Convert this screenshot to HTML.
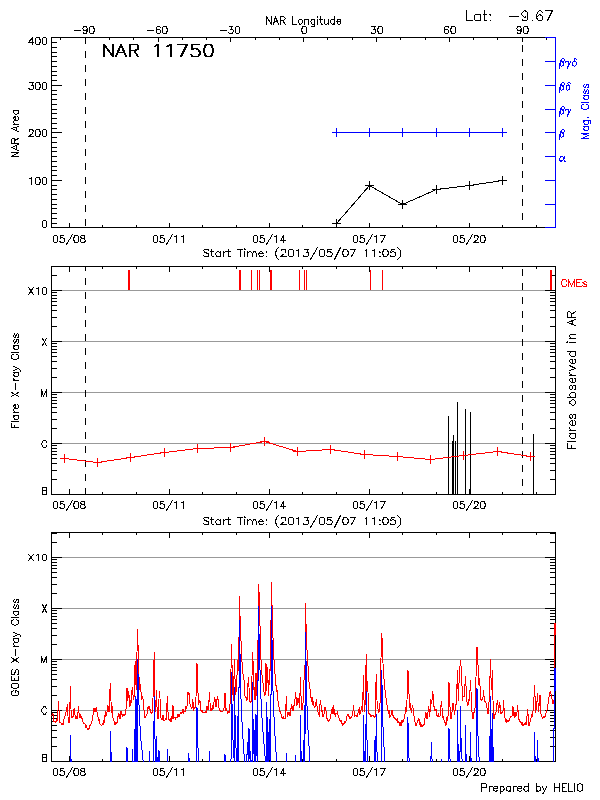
<!DOCTYPE html>
<html lang="en"><head><meta charset="utf-8"><title>NAR 11750 - HELIO active region summary</title>
<style>html,body{margin:0;padding:0;background:#fff;overflow:hidden}svg{display:block}text{font-family:"Liberation Sans",sans-serif;fill:#000;fill-opacity:0;stroke:none}</style>
</head><body>
<svg width="600" height="800" viewBox="0 0 600 800" shape-rendering="crispEdges">
<rect width="600" height="800" fill="#fff"/>
<path d="M51.5 227.5 L555.5 227.5 M51.5 37.5 L51.5 227.5 M69.5 223.5 L69.5 227.5 M102.5 225.5 L102.5 227.5 M136.5 225.5 L136.5 227.5 M169.5 223.5 L169.5 227.5 M202.5 225.5 L202.5 227.5 M236.5 225.5 L236.5 227.5 M269.5 223.5 L269.5 227.5 M302.5 225.5 L302.5 227.5 M336.5 225.5 L336.5 227.5 M369.5 223.5 L369.5 227.5 M402.5 225.5 L402.5 227.5 M436.5 225.5 L436.5 227.5 M469.5 223.5 L469.5 227.5 M502.5 225.5 L502.5 227.5 M536.5 225.5 L536.5 227.5 M51.5 37.5 L545.5 37.5 M51.5 223.5 L56.5 223.5 M51.5 218.5 L56.5 218.5 M51.5 213.5 L56.5 213.5 M51.5 208.5 L56.5 208.5 M51.5 204.5 L56.5 204.5 M51.5 199.5 L56.5 199.5 M51.5 194.5 L56.5 194.5 M51.5 189.5 L56.5 189.5 M51.5 185.5 L56.5 185.5 M51.5 180.5 L61.5 180.5 M51.5 175.5 L56.5 175.5 M51.5 170.5 L56.5 170.5 M51.5 166.5 L56.5 166.5 M51.5 161.5 L56.5 161.5 M51.5 156.5 L56.5 156.5 M51.5 151.5 L56.5 151.5 M51.5 147.5 L56.5 147.5 M51.5 142.5 L56.5 142.5 M51.5 137.5 L56.5 137.5 M51.5 132.5 L61.5 132.5 M51.5 128.5 L56.5 128.5 M51.5 123.5 L56.5 123.5 M51.5 118.5 L56.5 118.5 M51.5 113.5 L56.5 113.5 M51.5 109.5 L56.5 109.5 M51.5 104.5 L56.5 104.5 M51.5 99.5 L56.5 99.5 M51.5 94.5 L56.5 94.5 M51.5 90.5 L56.5 90.5 M51.5 85.5 L61.5 85.5 M51.5 80.5 L56.5 80.5 M51.5 75.5 L56.5 75.5 M51.5 71.5 L56.5 71.5 M51.5 66.5 L56.5 66.5 M51.5 61.5 L56.5 61.5 M51.5 56.5 L56.5 56.5 M51.5 52.5 L56.5 52.5 M51.5 47.5 L56.5 47.5 M51.5 42.5 L56.5 42.5 M60.5 37.5 L60.5 39.5 M85.5 37.5 L85.5 41.5 M109.5 37.5 L109.5 39.5 M133.5 37.5 L133.5 39.5 M158.5 37.5 L158.5 41.5 M182.5 37.5 L182.5 39.5 M206.5 37.5 L206.5 39.5 M230.5 37.5 L230.5 41.5 M255.5 37.5 L255.5 39.5 M279.5 37.5 L279.5 39.5 M303.5 37.5 L303.5 41.5 M327.5 37.5 L327.5 39.5 M352.5 37.5 L352.5 39.5 M376.5 37.5 L376.5 41.5 M400.5 37.5 L400.5 39.5 M425.5 37.5 L425.5 39.5 M449.5 37.5 L449.5 41.5 M473.5 37.5 L473.5 39.5 M497.5 37.5 L497.5 39.5 M522.5 37.5 L522.5 41.5 M546.5 37.5 L546.5 39.5" stroke="#000" stroke-width="1" fill="none" stroke-linecap="square" />
<path d="M555.5 37.5 L555.5 227.5 M545.5 37.5 L555.5 37.5 M545.5 227.5 L555.5 227.5 M545.5 204.5 L555.5 204.5 M545.5 180.5 L555.5 180.5 M545.5 156.5 L555.5 156.5 M545.5 132.5 L555.5 132.5 M545.5 109.5 L555.5 109.5 M545.5 85.5 L555.5 85.5 M545.5 61.5 L555.5 61.5" stroke="#0000ff" stroke-width="1" fill="none" stroke-linecap="square" />
<path d="M85.5 37.5 L85.5 43.5 M85.5 51.5 L85.5 57.5 M85.5 65.5 L85.5 71.5 M85.5 79.5 L85.5 85.5 M85.5 93.5 L85.5 99.5 M85.5 107.5 L85.5 113.5 M85.5 121.5 L85.5 127.5 M85.5 135.5 L85.5 141.5 M85.5 149.5 L85.5 155.5 M85.5 163.5 L85.5 169.5 M85.5 177.5 L85.5 183.5 M85.5 191.5 L85.5 197.5 M85.5 205.5 L85.5 211.5 M85.5 219.5 L85.5 225.5 M522.5 45.5 L522.5 51.5 M522.5 59.5 L522.5 65.5 M522.5 73.5 L522.5 79.5 M522.5 87.5 L522.5 93.5 M522.5 101.5 L522.5 107.5 M522.5 115.5 L522.5 121.5 M522.5 129.5 L522.5 135.5 M522.5 143.5 L522.5 149.5 M522.5 157.5 L522.5 163.5 M522.5 171.5 L522.5 177.5 M522.5 185.5 L522.5 191.5 M522.5 199.5 L522.5 205.5 M522.5 213.5 L522.5 219.5" stroke="#000" stroke-width="1" fill="none" stroke-linecap="square" />
<path d="M32.5 37.5 L28.5 42.5 L33.5 42.5 M32.5 37.5 L32.5 44.5 M37.5 37.5 L36.5 37.5 L35.5 38.5 L35.5 40.5 L35.5 41.5 L35.5 43.5 L36.5 44.5 L37.5 44.5 L38.5 44.5 L39.5 44.5 L39.5 43.5 L40.5 41.5 L40.5 40.5 L39.5 38.5 L39.5 37.5 L38.5 37.5 L37.5 37.5 M44.5 37.5 L43.5 37.5 L42.5 38.5 L42.5 40.5 L42.5 41.5 L42.5 43.5 L43.5 44.5 L44.5 44.5 L44.5 44.5 L45.5 44.5 L46.5 43.5 L46.5 41.5 L46.5 40.5 L46.5 38.5 L45.5 37.5 L44.5 37.5 L44.5 37.5" stroke="#000" stroke-width="1" fill="none" stroke-linecap="square" stroke-linejoin="miter"/>
<path d="M29.5 82.5 L33.5 82.5 L31.5 85.5 L32.5 85.5 L32.5 85.5 L33.5 85.5 L33.5 86.5 L33.5 87.5 L33.5 88.5 L32.5 89.5 L31.5 89.5 L30.5 89.5 L29.5 89.5 L29.5 88.5 L28.5 88.5 M37.5 82.5 L36.5 82.5 L35.5 83.5 L35.5 85.5 L35.5 86.5 L35.5 88.5 L36.5 89.5 L37.5 89.5 L38.5 89.5 L39.5 89.5 L39.5 88.5 L40.5 86.5 L40.5 85.5 L39.5 83.5 L39.5 82.5 L38.5 82.5 L37.5 82.5 M44.5 82.5 L43.5 82.5 L42.5 83.5 L42.5 85.5 L42.5 86.5 L42.5 88.5 L43.5 89.5 L44.5 89.5 L44.5 89.5 L45.5 89.5 L46.5 88.5 L46.5 86.5 L46.5 85.5 L46.5 83.5 L45.5 82.5 L44.5 82.5 L44.5 82.5" stroke="#000" stroke-width="1" fill="none" stroke-linecap="square" stroke-linejoin="miter"/>
<path d="M29.5 131.5 L29.5 130.5 L29.5 130.5 L29.5 129.5 L30.5 129.5 L31.5 129.5 L32.5 129.5 L32.5 130.5 L33.5 130.5 L33.5 131.5 L32.5 132.5 L32.5 133.5 L28.5 136.5 L33.5 136.5 M37.5 129.5 L36.5 129.5 L35.5 130.5 L35.5 132.5 L35.5 133.5 L35.5 135.5 L36.5 136.5 L37.5 136.5 L38.5 136.5 L39.5 136.5 L39.5 135.5 L40.5 133.5 L40.5 132.5 L39.5 130.5 L39.5 129.5 L38.5 129.5 L37.5 129.5 M44.5 129.5 L43.5 129.5 L42.5 130.5 L42.5 132.5 L42.5 133.5 L42.5 135.5 L43.5 136.5 L44.5 136.5 L44.5 136.5 L45.5 136.5 L46.5 135.5 L46.5 133.5 L46.5 132.5 L46.5 130.5 L45.5 129.5 L44.5 129.5 L44.5 129.5" stroke="#000" stroke-width="1" fill="none" stroke-linecap="square" stroke-linejoin="miter"/>
<path d="M29.5 178.5 L30.5 178.5 L31.5 177.5 L31.5 184.5 M37.5 177.5 L36.5 177.5 L35.5 178.5 L35.5 180.5 L35.5 181.5 L35.5 183.5 L36.5 184.5 L37.5 184.5 L38.5 184.5 L39.5 184.5 L39.5 183.5 L40.5 181.5 L40.5 180.5 L39.5 178.5 L39.5 177.5 L38.5 177.5 L37.5 177.5 M44.5 177.5 L43.5 177.5 L42.5 178.5 L42.5 180.5 L42.5 181.5 L42.5 183.5 L43.5 184.5 L44.5 184.5 L44.5 184.5 L45.5 184.5 L46.5 183.5 L46.5 181.5 L46.5 180.5 L46.5 178.5 L45.5 177.5 L44.5 177.5 L44.5 177.5" stroke="#000" stroke-width="1" fill="none" stroke-linecap="square" stroke-linejoin="miter"/>
<path d="M44.5 220.5 L43.5 220.5 L42.5 221.5 L42.5 223.5 L42.5 224.5 L42.5 226.5 L43.5 227.5 L44.5 227.5 L44.5 227.5 L45.5 227.5 L46.5 226.5 L46.5 224.5 L46.5 223.5 L46.5 221.5 L45.5 220.5 L44.5 220.5 L44.5 220.5" stroke="#000" stroke-width="1" fill="none" stroke-linecap="square" stroke-linejoin="miter"/>
<path d="M74.5 30.5 L80.5 30.5 M87.5 28.5 L86.5 29.5 L86.5 30.5 L85.5 30.5 L84.5 30.5 L83.5 30.5 L83.5 29.5 L82.5 28.5 L82.5 28.5 L83.5 27.5 L83.5 26.5 L84.5 26.5 L85.5 26.5 L86.5 26.5 L86.5 27.5 L87.5 28.5 L87.5 30.5 L86.5 32.5 L86.5 33.5 L85.5 33.5 L84.5 33.5 L83.5 33.5 L83.5 32.5 M91.5 26.5 L90.5 26.5 L89.5 27.5 L89.5 29.5 L89.5 30.5 L89.5 32.5 L90.5 33.5 L91.5 33.5 L92.5 33.5 L93.5 33.5 L93.5 32.5 L94.5 30.5 L94.5 29.5 L93.5 27.5 L93.5 26.5 L92.5 26.5 L91.5 26.5" stroke="#000" stroke-width="1" fill="none" stroke-linecap="square" stroke-linejoin="miter"/>
<path d="M147.5 30.5 L153.5 30.5 M160.5 27.5 L159.5 26.5 L158.5 26.5 L158.5 26.5 L157.5 26.5 L156.5 27.5 L156.5 29.5 L156.5 31.5 L156.5 32.5 L157.5 33.5 L158.5 33.5 L158.5 33.5 L159.5 33.5 L160.5 32.5 L160.5 31.5 L160.5 31.5 L160.5 30.5 L159.5 29.5 L158.5 29.5 L158.5 29.5 L157.5 29.5 L156.5 30.5 L156.5 31.5 M164.5 26.5 L163.5 26.5 L162.5 27.5 L162.5 29.5 L162.5 30.5 L162.5 32.5 L163.5 33.5 L164.5 33.5 L165.5 33.5 L166.5 33.5 L166.5 32.5 L167.5 30.5 L167.5 29.5 L166.5 27.5 L166.5 26.5 L165.5 26.5 L164.5 26.5" stroke="#000" stroke-width="1" fill="none" stroke-linecap="square" stroke-linejoin="miter"/>
<path d="M220.5 30.5 L226.5 30.5 M229.5 26.5 L232.5 26.5 L230.5 29.5 L231.5 29.5 L232.5 29.5 L232.5 29.5 L233.5 30.5 L233.5 31.5 L232.5 32.5 L232.5 33.5 L231.5 33.5 L230.5 33.5 L229.5 33.5 L228.5 32.5 L228.5 32.5 M237.5 26.5 L236.5 26.5 L235.5 27.5 L235.5 29.5 L235.5 30.5 L235.5 32.5 L236.5 33.5 L237.5 33.5 L237.5 33.5 L238.5 33.5 L239.5 32.5 L239.5 30.5 L239.5 29.5 L239.5 27.5 L238.5 26.5 L237.5 26.5 L237.5 26.5" stroke="#000" stroke-width="1" fill="none" stroke-linecap="square" stroke-linejoin="miter"/>
<path d="M303.5 26.5 L302.5 26.5 L302.5 27.5 L301.5 29.5 L301.5 30.5 L302.5 32.5 L302.5 33.5 L303.5 33.5 L304.5 33.5 L305.5 33.5 L306.5 32.5 L306.5 30.5 L306.5 29.5 L306.5 27.5 L305.5 26.5 L304.5 26.5 L303.5 26.5" stroke="#000" stroke-width="1" fill="none" stroke-linecap="square" stroke-linejoin="miter"/>
<path d="M371.5 26.5 L375.5 26.5 L373.5 29.5 L374.5 29.5 L375.5 29.5 L375.5 29.5 L375.5 30.5 L375.5 31.5 L375.5 32.5 L374.5 33.5 L373.5 33.5 L372.5 33.5 L371.5 33.5 L371.5 32.5 L371.5 32.5 M379.5 26.5 L378.5 26.5 L378.5 27.5 L377.5 29.5 L377.5 30.5 L378.5 32.5 L378.5 33.5 L379.5 33.5 L380.5 33.5 L381.5 33.5 L382.5 32.5 L382.5 30.5 L382.5 29.5 L382.5 27.5 L381.5 26.5 L380.5 26.5 L379.5 26.5" stroke="#000" stroke-width="1" fill="none" stroke-linecap="square" stroke-linejoin="miter"/>
<path d="M448.5 27.5 L448.5 26.5 L447.5 26.5 L446.5 26.5 L445.5 26.5 L444.5 27.5 L444.5 29.5 L444.5 31.5 L444.5 32.5 L445.5 33.5 L446.5 33.5 L446.5 33.5 L447.5 33.5 L448.5 32.5 L448.5 31.5 L448.5 31.5 L448.5 30.5 L447.5 29.5 L446.5 29.5 L446.5 29.5 L445.5 29.5 L444.5 30.5 L444.5 31.5 M452.5 26.5 L451.5 26.5 L451.5 27.5 L450.5 29.5 L450.5 30.5 L451.5 32.5 L451.5 33.5 L452.5 33.5 L453.5 33.5 L454.5 33.5 L455.5 32.5 L455.5 30.5 L455.5 29.5 L455.5 27.5 L454.5 26.5 L453.5 26.5 L452.5 26.5" stroke="#000" stroke-width="1" fill="none" stroke-linecap="square" stroke-linejoin="miter"/>
<path d="M521.5 28.5 L520.5 29.5 L520.5 30.5 L519.5 30.5 L518.5 30.5 L517.5 30.5 L517.5 29.5 L516.5 28.5 L516.5 28.5 L517.5 27.5 L517.5 26.5 L518.5 26.5 L519.5 26.5 L520.5 26.5 L520.5 27.5 L521.5 28.5 L521.5 30.5 L520.5 32.5 L520.5 33.5 L519.5 33.5 L518.5 33.5 L517.5 33.5 L517.5 32.5 M525.5 26.5 L524.5 26.5 L523.5 27.5 L523.5 29.5 L523.5 30.5 L523.5 32.5 L524.5 33.5 L525.5 33.5 L526.5 33.5 L527.5 33.5 L527.5 32.5 L528.5 30.5 L528.5 29.5 L527.5 27.5 L527.5 26.5 L526.5 26.5 L525.5 26.5" stroke="#000" stroke-width="1" fill="none" stroke-linecap="square" stroke-linejoin="miter"/>
<path d="M266.5 16.5 L266.5 24.5 M266.5 16.5 L271.5 24.5 M271.5 16.5 L271.5 24.5 M275.5 16.5 L273.5 24.5 M275.5 16.5 L278.5 24.5 M274.5 21.5 L277.5 21.5 M280.5 16.5 L280.5 24.5 M280.5 16.5 L283.5 16.5 L284.5 17.5 L284.5 17.5 L285.5 18.5 L285.5 18.5 L284.5 19.5 L284.5 19.5 L283.5 20.5 L280.5 20.5 M282.5 20.5 L285.5 24.5 M292.5 16.5 L292.5 24.5 M292.5 24.5 L296.5 24.5 M299.5 19.5 L299.5 19.5 L298.5 20.5 L298.5 21.5 L298.5 21.5 L298.5 22.5 L299.5 23.5 L299.5 24.5 L300.5 24.5 L301.5 23.5 L302.5 22.5 L302.5 21.5 L302.5 21.5 L302.5 20.5 L301.5 19.5 L300.5 19.5 L299.5 19.5 M304.5 19.5 L304.5 24.5 M304.5 20.5 L305.5 19.5 L306.5 19.5 L307.5 19.5 L308.5 19.5 L308.5 20.5 L308.5 24.5 M314.5 19.5 L314.5 24.5 L314.5 25.5 L314.5 26.5 L313.5 26.5 L312.5 26.5 L311.5 26.5 M314.5 20.5 L314.5 19.5 L313.5 19.5 L312.5 19.5 L311.5 19.5 L311.5 20.5 L310.5 21.5 L310.5 21.5 L311.5 22.5 L311.5 23.5 L312.5 24.5 L313.5 24.5 L314.5 23.5 L314.5 22.5 M317.5 16.5 L317.5 17.5 L317.5 16.5 L317.5 16.5 L317.5 16.5 M317.5 19.5 L317.5 24.5 M320.5 16.5 L320.5 22.5 L321.5 23.5 L321.5 24.5 L322.5 24.5 M319.5 19.5 L322.5 19.5 M324.5 19.5 L324.5 22.5 L324.5 23.5 L325.5 24.5 L326.5 24.5 L327.5 23.5 L328.5 22.5 M328.5 19.5 L328.5 24.5 M334.5 16.5 L334.5 24.5 M334.5 20.5 L333.5 19.5 L333.5 19.5 L332.5 19.5 L331.5 19.5 L330.5 20.5 L330.5 21.5 L330.5 21.5 L330.5 22.5 L331.5 23.5 L332.5 24.5 L333.5 24.5 L333.5 23.5 L334.5 22.5 M336.5 21.5 L340.5 21.5 L340.5 20.5 L340.5 19.5 L340.5 19.5 L339.5 19.5 L338.5 19.5 L337.5 19.5 L337.5 20.5 L336.5 21.5 L336.5 21.5 L337.5 22.5 L337.5 23.5 L338.5 24.5 L339.5 24.5 L340.5 23.5 L340.5 22.5" stroke="#000" stroke-width="1" fill="none" stroke-linecap="square" stroke-linejoin="miter"/>
<path d="M11.5 156.5 L18.5 156.5 M11.5 156.5 L18.5 152.5 M11.5 152.5 L18.5 152.5 M11.5 147.5 L18.5 150.5 M11.5 147.5 L18.5 144.5 M16.5 149.5 L16.5 145.5 M11.5 143.5 L18.5 143.5 M11.5 143.5 L11.5 140.5 L11.5 139.5 L12.5 138.5 L12.5 138.5 L13.5 138.5 L14.5 138.5 L14.5 139.5 L14.5 140.5 L14.5 143.5 M14.5 140.5 L18.5 138.5 M11.5 128.5 L18.5 131.5 M11.5 128.5 L18.5 126.5 M16.5 130.5 L16.5 127.5 M13.5 124.5 L18.5 124.5 M15.5 124.5 L14.5 124.5 L14.5 123.5 L13.5 122.5 L13.5 121.5 M15.5 120.5 L15.5 116.5 L15.5 116.5 L14.5 116.5 L14.5 117.5 L13.5 117.5 L13.5 118.5 L14.5 119.5 L14.5 120.5 L15.5 120.5 L16.5 120.5 L17.5 120.5 L18.5 119.5 L18.5 118.5 L18.5 117.5 L18.5 117.5 L17.5 116.5 M13.5 110.5 L18.5 110.5 M14.5 110.5 L14.5 110.5 L13.5 111.5 L13.5 112.5 L14.5 113.5 L14.5 113.5 L15.5 114.5 L16.5 114.5 L17.5 113.5 L18.5 113.5 L18.5 112.5 L18.5 111.5 L18.5 110.5 L17.5 110.5" stroke="#000" stroke-width="1" fill="none" stroke-linecap="square" stroke-linejoin="miter"/>
<path d="M103.5 44.5 L103.5 56.5 M103.5 44.5 L112.5 56.5 M112.5 44.5 L112.5 56.5 M120.5 44.5 L115.5 56.5 M120.5 44.5 L125.5 56.5 M117.5 52.5 L123.5 52.5 M129.5 44.5 L129.5 56.5 M129.5 44.5 L134.5 44.5 L136.5 44.5 L137.5 45.5 L137.5 46.5 L137.5 47.5 L137.5 49.5 L136.5 49.5 L134.5 50.5 L129.5 50.5 M133.5 50.5 L137.5 56.5 M154.5 46.5 L155.5 45.5 L157.5 44.5 L157.5 56.5 M166.5 46.5 L168.5 45.5 L170.5 44.5 L170.5 56.5 M186.5 44.5 L180.5 56.5 M177.5 44.5 L186.5 44.5 M198.5 44.5 L191.5 44.5 L191.5 49.5 L191.5 49.5 L193.5 48.5 L195.5 48.5 L197.5 49.5 L198.5 50.5 L199.5 52.5 L199.5 53.5 L198.5 55.5 L197.5 56.5 L195.5 56.5 L193.5 56.5 L191.5 56.5 L191.5 55.5 L190.5 54.5 M207.5 44.5 L205.5 44.5 L204.5 46.5 L203.5 49.5 L203.5 51.5 L204.5 54.5 L205.5 56.5 L207.5 56.5 L208.5 56.5 L210.5 56.5 L211.5 54.5 L212.5 51.5 L212.5 49.5 L211.5 46.5 L210.5 44.5 L208.5 44.5 L207.5 44.5 M104.5 44.5 L104.5 56.5 M104.5 44.5 L113.5 56.5 M113.5 44.5 L113.5 56.5 M121.5 44.5 L116.5 56.5 M121.5 44.5 L126.5 56.5 M118.5 52.5 L124.5 52.5 M130.5 44.5 L130.5 56.5 M130.5 44.5 L135.5 44.5 L137.5 44.5 L138.5 45.5 L138.5 46.5 L138.5 47.5 L138.5 49.5 L137.5 49.5 L135.5 50.5 L130.5 50.5 M134.5 50.5 L138.5 56.5 M155.5 46.5 L156.5 45.5 L158.5 44.5 L158.5 56.5 M167.5 46.5 L169.5 45.5 L171.5 44.5 L171.5 56.5 M187.5 44.5 L181.5 56.5 M178.5 44.5 L187.5 44.5 M199.5 44.5 L192.5 44.5 L192.5 49.5 L192.5 49.5 L194.5 48.5 L196.5 48.5 L198.5 49.5 L199.5 50.5 L200.5 52.5 L200.5 53.5 L199.5 55.5 L198.5 56.5 L196.5 56.5 L194.5 56.5 L192.5 56.5 L192.5 55.5 L191.5 54.5 M208.5 44.5 L206.5 44.5 L205.5 46.5 L204.5 49.5 L204.5 51.5 L205.5 54.5 L206.5 56.5 L208.5 56.5 L209.5 56.5 L211.5 56.5 L212.5 54.5 L213.5 51.5 L213.5 49.5 L212.5 46.5 L211.5 44.5 L209.5 44.5 L208.5 44.5" stroke="#000" stroke-width="1" fill="none" stroke-linecap="square" stroke-linejoin="miter"/>
<path d="M466.5 10.5 L466.5 20.5 M466.5 20.5 L472.5 20.5 M480.5 14.5 L480.5 20.5 M480.5 15.5 L479.5 14.5 L478.5 14.5 L476.5 14.5 L475.5 14.5 L474.5 15.5 L474.5 17.5 L474.5 18.5 L474.5 19.5 L475.5 20.5 L476.5 20.5 L478.5 20.5 L479.5 20.5 L480.5 19.5 M484.5 10.5 L484.5 19.5 L484.5 20.5 L485.5 20.5 L486.5 20.5 M483.5 14.5 L486.5 14.5 M490.5 14.5 L489.5 14.5 L490.5 15.5 L490.5 14.5 L490.5 14.5 M490.5 20.5 L489.5 20.5 L490.5 20.5 L490.5 20.5 L490.5 20.5" stroke="#000" stroke-width="1" fill="none" stroke-linecap="square" stroke-linejoin="miter"/>
<path d="M509.5 16.5 L518.5 16.5 M527.5 14.5 L527.5 15.5 L526.5 16.5 L524.5 17.5 L524.5 17.5 L523.5 16.5 L522.5 15.5 L521.5 14.5 L521.5 13.5 L522.5 12.5 L523.5 11.5 L524.5 10.5 L524.5 10.5 L526.5 11.5 L527.5 12.5 L527.5 14.5 L527.5 16.5 L527.5 19.5 L526.5 20.5 L524.5 20.5 L523.5 20.5 L522.5 20.5 L522.5 19.5 M532.5 20.5 L531.5 20.5 L532.5 20.5 L532.5 20.5 L532.5 20.5 M542.5 12.5 L541.5 11.5 L540.5 10.5 L539.5 10.5 L538.5 11.5 L537.5 12.5 L536.5 15.5 L536.5 17.5 L537.5 19.5 L538.5 20.5 L539.5 20.5 L539.5 20.5 L541.5 20.5 L542.5 19.5 L542.5 18.5 L542.5 17.5 L542.5 16.5 L541.5 15.5 L539.5 14.5 L539.5 14.5 L538.5 15.5 L537.5 16.5 L536.5 17.5 M552.5 10.5 L547.5 20.5 M545.5 10.5 L552.5 10.5" stroke="#000" stroke-width="1" fill="none" stroke-linecap="square" stroke-linejoin="miter"/>
<path d="M55.5 235.5 L54.5 235.5 L53.5 236.5 L53.5 238.5 L53.5 239.5 L53.5 241.5 L54.5 242.5 L55.5 242.5 L55.5 242.5 L56.5 242.5 L57.5 241.5 L57.5 239.5 L57.5 238.5 L57.5 236.5 L56.5 235.5 L55.5 235.5 L55.5 235.5 M63.5 235.5 L60.5 235.5 L60.5 238.5 L60.5 238.5 L61.5 237.5 L62.5 237.5 L63.5 238.5 L64.5 238.5 L64.5 239.5 L64.5 240.5 L64.5 241.5 L63.5 242.5 L62.5 242.5 L61.5 242.5 L60.5 242.5 L60.5 241.5 L59.5 241.5 M72.5 234.5 L66.5 244.5 M75.5 235.5 L74.5 235.5 L74.5 236.5 L73.5 238.5 L73.5 239.5 L74.5 241.5 L74.5 242.5 L75.5 242.5 L76.5 242.5 L77.5 242.5 L78.5 241.5 L78.5 239.5 L78.5 238.5 L78.5 236.5 L77.5 235.5 L76.5 235.5 L75.5 235.5 M82.5 235.5 L81.5 235.5 L80.5 236.5 L80.5 237.5 L81.5 237.5 L81.5 238.5 L83.5 238.5 L84.5 238.5 L84.5 239.5 L85.5 240.5 L85.5 241.5 L84.5 241.5 L84.5 242.5 L83.5 242.5 L82.5 242.5 L81.5 242.5 L80.5 241.5 L80.5 241.5 L80.5 240.5 L80.5 239.5 L81.5 238.5 L82.5 238.5 L83.5 238.5 L84.5 237.5 L84.5 237.5 L84.5 236.5 L84.5 235.5 L83.5 235.5 L82.5 235.5" stroke="#000" stroke-width="1" fill="none" stroke-linecap="square" stroke-linejoin="miter"/>
<path d="M155.5 235.5 L154.5 235.5 L153.5 236.5 L153.5 238.5 L153.5 239.5 L153.5 241.5 L154.5 242.5 L155.5 242.5 L155.5 242.5 L156.5 242.5 L157.5 241.5 L157.5 239.5 L157.5 238.5 L157.5 236.5 L156.5 235.5 L155.5 235.5 L155.5 235.5 M163.5 235.5 L160.5 235.5 L160.5 238.5 L160.5 238.5 L161.5 237.5 L162.5 237.5 L163.5 238.5 L164.5 238.5 L164.5 239.5 L164.5 240.5 L164.5 241.5 L163.5 242.5 L162.5 242.5 L161.5 242.5 L160.5 242.5 L160.5 241.5 L159.5 241.5 M172.5 234.5 L166.5 244.5 M174.5 236.5 L175.5 236.5 L176.5 235.5 L176.5 242.5 M181.5 236.5 L182.5 236.5 L183.5 235.5 L183.5 242.5" stroke="#000" stroke-width="1" fill="none" stroke-linecap="square" stroke-linejoin="miter"/>
<path d="M255.5 235.5 L254.5 235.5 L253.5 236.5 L253.5 238.5 L253.5 239.5 L253.5 241.5 L254.5 242.5 L255.5 242.5 L255.5 242.5 L256.5 242.5 L257.5 241.5 L257.5 239.5 L257.5 238.5 L257.5 236.5 L256.5 235.5 L255.5 235.5 L255.5 235.5 M263.5 235.5 L260.5 235.5 L260.5 238.5 L260.5 238.5 L261.5 237.5 L262.5 237.5 L263.5 238.5 L264.5 238.5 L264.5 239.5 L264.5 240.5 L264.5 241.5 L263.5 242.5 L262.5 242.5 L261.5 242.5 L260.5 242.5 L260.5 241.5 L259.5 241.5 M272.5 234.5 L266.5 244.5 M274.5 236.5 L275.5 236.5 L276.5 235.5 L276.5 242.5 M283.5 235.5 L280.5 240.5 L285.5 240.5 M283.5 235.5 L283.5 242.5" stroke="#000" stroke-width="1" fill="none" stroke-linecap="square" stroke-linejoin="miter"/>
<path d="M355.5 235.5 L354.5 235.5 L353.5 236.5 L353.5 238.5 L353.5 239.5 L353.5 241.5 L354.5 242.5 L355.5 242.5 L355.5 242.5 L356.5 242.5 L357.5 241.5 L357.5 239.5 L357.5 238.5 L357.5 236.5 L356.5 235.5 L355.5 235.5 L355.5 235.5 M363.5 235.5 L360.5 235.5 L360.5 238.5 L360.5 238.5 L361.5 237.5 L362.5 237.5 L363.5 238.5 L364.5 238.5 L364.5 239.5 L364.5 240.5 L364.5 241.5 L363.5 242.5 L362.5 242.5 L361.5 242.5 L360.5 242.5 L360.5 241.5 L359.5 241.5 M372.5 234.5 L366.5 244.5 M374.5 236.5 L375.5 236.5 L376.5 235.5 L376.5 242.5 M385.5 235.5 L381.5 242.5 M380.5 235.5 L385.5 235.5" stroke="#000" stroke-width="1" fill="none" stroke-linecap="square" stroke-linejoin="miter"/>
<path d="M455.5 235.5 L454.5 235.5 L453.5 236.5 L453.5 238.5 L453.5 239.5 L453.5 241.5 L454.5 242.5 L455.5 242.5 L455.5 242.5 L456.5 242.5 L457.5 241.5 L457.5 239.5 L457.5 238.5 L457.5 236.5 L456.5 235.5 L455.5 235.5 L455.5 235.5 M463.5 235.5 L460.5 235.5 L460.5 238.5 L460.5 238.5 L461.5 237.5 L462.5 237.5 L463.5 238.5 L464.5 238.5 L464.5 239.5 L464.5 240.5 L464.5 241.5 L463.5 242.5 L462.5 242.5 L461.5 242.5 L460.5 242.5 L460.5 241.5 L459.5 241.5 M472.5 234.5 L466.5 244.5 M474.5 237.5 L474.5 236.5 L474.5 236.5 L474.5 235.5 L475.5 235.5 L476.5 235.5 L477.5 235.5 L477.5 236.5 L478.5 236.5 L478.5 237.5 L477.5 238.5 L477.5 239.5 L473.5 242.5 L478.5 242.5 M482.5 235.5 L481.5 235.5 L480.5 236.5 L480.5 238.5 L480.5 239.5 L480.5 241.5 L481.5 242.5 L482.5 242.5 L483.5 242.5 L484.5 242.5 L484.5 241.5 L485.5 239.5 L485.5 238.5 L484.5 236.5 L484.5 235.5 L483.5 235.5 L482.5 235.5" stroke="#000" stroke-width="1" fill="none" stroke-linecap="square" stroke-linejoin="miter"/>
<path d="M208.5 250.5 L208.5 249.5 L207.5 249.5 L205.5 249.5 L204.5 249.5 L203.5 250.5 L203.5 250.5 L204.5 251.5 L204.5 252.5 L205.5 252.5 L207.5 253.5 L208.5 253.5 L208.5 253.5 L208.5 254.5 L208.5 255.5 L208.5 256.5 L207.5 256.5 L205.5 256.5 L204.5 256.5 L203.5 255.5 M211.5 249.5 L211.5 255.5 L212.5 256.5 L213.5 256.5 L213.5 256.5 M210.5 251.5 L213.5 251.5 M220.5 251.5 L220.5 256.5 M220.5 252.5 L219.5 252.5 L218.5 251.5 L217.5 251.5 L216.5 252.5 L216.5 252.5 L215.5 253.5 L215.5 254.5 L216.5 255.5 L216.5 256.5 L217.5 256.5 L218.5 256.5 L219.5 256.5 L220.5 255.5 M223.5 251.5 L223.5 256.5 M223.5 253.5 L223.5 252.5 L224.5 252.5 L225.5 251.5 L226.5 251.5 M228.5 249.5 L228.5 255.5 L228.5 256.5 L229.5 256.5 L230.5 256.5 M227.5 251.5 L230.5 251.5 M240.5 249.5 L240.5 256.5 M237.5 249.5 L242.5 249.5 M244.5 249.5 L244.5 249.5 L245.5 249.5 L244.5 248.5 L244.5 249.5 M244.5 251.5 L244.5 256.5 M247.5 251.5 L247.5 256.5 M247.5 253.5 L248.5 252.5 L249.5 251.5 L250.5 251.5 L251.5 252.5 L252.5 253.5 L252.5 256.5 M252.5 253.5 L253.5 252.5 L253.5 251.5 L255.5 251.5 L255.5 252.5 L256.5 253.5 L256.5 256.5 M258.5 253.5 L263.5 253.5 L263.5 253.5 L262.5 252.5 L262.5 252.5 L261.5 251.5 L260.5 251.5 L259.5 252.5 L259.5 252.5 L258.5 253.5 L258.5 254.5 L259.5 255.5 L259.5 256.5 L260.5 256.5 L261.5 256.5 L262.5 256.5 L263.5 255.5 M266.5 251.5 L266.5 252.5 L266.5 252.5 L266.5 252.5 L266.5 251.5 M266.5 256.5 L266.5 256.5 L266.5 256.5 L266.5 256.5 L266.5 256.5 M278.5 247.5 L277.5 248.5 L276.5 249.5 L276.5 250.5 L275.5 252.5 L275.5 254.5 L276.5 256.5 L276.5 257.5 L277.5 258.5 L278.5 259.5 M281.5 250.5 L281.5 250.5 L281.5 249.5 L281.5 249.5 L282.5 249.5 L284.5 249.5 L284.5 249.5 L285.5 249.5 L285.5 250.5 L285.5 251.5 L285.5 252.5 L284.5 253.5 L280.5 256.5 L286.5 256.5 M290.5 249.5 L289.5 249.5 L288.5 250.5 L288.5 252.5 L288.5 253.5 L288.5 255.5 L289.5 256.5 L290.5 256.5 L291.5 256.5 L292.5 256.5 L293.5 255.5 L293.5 253.5 L293.5 252.5 L293.5 250.5 L292.5 249.5 L291.5 249.5 L290.5 249.5 M296.5 250.5 L297.5 250.5 L298.5 249.5 L298.5 256.5 M304.5 249.5 L308.5 249.5 L306.5 252.5 L307.5 252.5 L307.5 252.5 L308.5 252.5 L308.5 253.5 L308.5 254.5 L308.5 255.5 L307.5 256.5 L306.5 256.5 L305.5 256.5 L304.5 256.5 L303.5 256.5 L303.5 255.5 M317.5 247.5 L310.5 259.5 M321.5 249.5 L320.5 249.5 L319.5 250.5 L319.5 252.5 L319.5 253.5 L319.5 255.5 L320.5 256.5 L321.5 256.5 L322.5 256.5 L323.5 256.5 L324.5 255.5 L324.5 253.5 L324.5 252.5 L324.5 250.5 L323.5 249.5 L322.5 249.5 L321.5 249.5 M331.5 249.5 L327.5 249.5 L327.5 252.5 L327.5 252.5 L328.5 251.5 L329.5 251.5 L331.5 252.5 L331.5 252.5 L332.5 253.5 L332.5 254.5 L331.5 255.5 L331.5 256.5 L329.5 256.5 L328.5 256.5 L327.5 256.5 L327.5 256.5 L326.5 255.5 M340.5 247.5 L334.5 259.5 M345.5 249.5 L343.5 249.5 L343.5 250.5 L342.5 252.5 L342.5 253.5 L343.5 255.5 L343.5 256.5 L345.5 256.5 L345.5 256.5 L346.5 256.5 L347.5 255.5 L348.5 253.5 L348.5 252.5 L347.5 250.5 L346.5 249.5 L345.5 249.5 L345.5 249.5 M355.5 249.5 L351.5 256.5 M350.5 249.5 L355.5 249.5 M365.5 250.5 L365.5 250.5 L366.5 249.5 L366.5 256.5 M372.5 250.5 L373.5 250.5 L374.5 249.5 L374.5 256.5 M379.5 251.5 L379.5 252.5 L379.5 252.5 L380.5 252.5 L379.5 251.5 M379.5 256.5 L379.5 256.5 L379.5 256.5 L380.5 256.5 L379.5 256.5 M385.5 249.5 L383.5 249.5 L383.5 250.5 L382.5 252.5 L382.5 253.5 L383.5 255.5 L383.5 256.5 L385.5 256.5 L385.5 256.5 L386.5 256.5 L387.5 255.5 L388.5 253.5 L388.5 252.5 L387.5 250.5 L386.5 249.5 L385.5 249.5 L385.5 249.5 M394.5 249.5 L391.5 249.5 L390.5 252.5 L391.5 252.5 L392.5 251.5 L393.5 251.5 L394.5 252.5 L395.5 252.5 L395.5 253.5 L395.5 254.5 L395.5 255.5 L394.5 256.5 L393.5 256.5 L392.5 256.5 L391.5 256.5 L390.5 256.5 L390.5 255.5 M397.5 247.5 L398.5 248.5 L399.5 249.5 L400.5 250.5 L400.5 252.5 L400.5 254.5 L400.5 256.5 L399.5 257.5 L398.5 258.5 L397.5 259.5" stroke="#000" stroke-width="1" fill="none" stroke-linecap="square" stroke-linejoin="miter"/>
<path d="M562.88 58.54 L562.16 58.9 L561.44 59.62 L560.72 61.06 L560.36 62.14 L560 63.58 L559.64 65.74 L559.28 68.62 M562.88 58.54 L563.6 58.54 L564.32 59.26 L564.32 60.34 L563.96 61.06 L563.6 61.42 L562.88 61.78 L561.8 61.78 M561.8 61.78 L562.52 62.14 L563.24 62.86 L563.6 63.58 L563.6 64.66 L563.24 65.38 L562.88 65.74 L562.16 66.1 L561.44 66.1 L560.72 65.74 L560.36 65.38 L560 64.3 M565.29 62.14 L566.01 61.42 L566.73 61.06 L567.09 61.06 L567.81 61.42 L568.17 61.78 L568.53 62.86 L568.53 64.3 L568.17 66.1 M571.05 61.06 L570.69 62.14 L570.33 62.86 L568.17 66.1 L567.45 67.54 L567.09 68.62 M575.26 61.06 L574.18 61.06 L573.46 61.42 L572.75 62.14 L572.38 63.22 L572.38 64.3 L572.75 65.38 L573.1 65.74 L573.82 66.1 L574.54 66.1 L575.26 65.74 L575.98 65.02 L576.34 63.94 L576.34 62.86 L575.98 61.78 L575.26 61.06 L574.54 60.34 L574.18 59.62 L574.18 58.9 L574.54 58.54 L575.26 58.54 L575.98 58.9 L576.7 59.62" stroke="#0000ff" stroke-width="1" fill="none" stroke-linecap="square" stroke-linejoin="miter"/>
<path d="M562.88 82.54 L562.16 82.9 L561.44 83.62 L560.72 85.06 L560.36 86.14 L560 87.58 L559.64 89.74 L559.28 92.62 M562.88 82.54 L563.6 82.54 L564.32 83.26 L564.32 84.34 L563.96 85.06 L563.6 85.42 L562.88 85.78 L561.8 85.78 M561.8 85.78 L562.52 86.14 L563.24 86.86 L563.6 87.58 L563.6 88.66 L563.24 89.38 L562.88 89.74 L562.16 90.1 L561.44 90.1 L560.72 89.74 L560.36 89.38 L560 88.3 M568.9 85.06 L567.82 85.06 L567.1 85.42 L566.38 86.14 L566.02 87.22 L566.02 88.3 L566.38 89.38 L566.74 89.74 L567.46 90.1 L568.18 90.1 L568.9 89.74 L569.62 89.02 L569.98 87.94 L569.98 86.86 L569.62 85.78 L568.9 85.06 L568.18 84.34 L567.82 83.62 L567.82 82.9 L568.18 82.54 L568.9 82.54 L569.62 82.9 L570.34 83.62" stroke="#0000ff" stroke-width="1" fill="none" stroke-linecap="square" stroke-linejoin="miter"/>
<path d="M562.88 106.54 L562.16 106.9 L561.44 107.62 L560.72 109.06 L560.36 110.14 L560 111.58 L559.64 113.74 L559.28 116.62 M562.88 106.54 L563.6 106.54 L564.32 107.26 L564.32 108.34 L563.96 109.06 L563.6 109.42 L562.88 109.78 L561.8 109.78 M561.8 109.78 L562.52 110.14 L563.24 110.86 L563.6 111.58 L563.6 112.66 L563.24 113.38 L562.88 113.74 L562.16 114.1 L561.44 114.1 L560.72 113.74 L560.36 113.38 L560 112.3 M565.29 110.14 L566.01 109.42 L566.73 109.06 L567.09 109.06 L567.81 109.42 L568.17 109.78 L568.53 110.86 L568.53 112.3 L568.17 114.1 M571.05 109.06 L570.69 110.14 L570.33 110.86 L568.17 114.1 L567.45 115.54 L567.09 116.62" stroke="#0000ff" stroke-width="1" fill="none" stroke-linecap="square" stroke-linejoin="miter"/>
<path d="M562.88 129.54 L562.16 129.9 L561.44 130.62 L560.72 132.06 L560.36 133.14 L560 134.58 L559.64 136.74 L559.28 139.62 M562.88 129.54 L563.6 129.54 L564.32 130.26 L564.32 131.34 L563.96 132.06 L563.6 132.42 L562.88 132.78 L561.8 132.78 M561.8 132.78 L562.52 133.14 L563.24 133.86 L563.6 134.58 L563.6 135.66 L563.24 136.38 L562.88 136.74 L562.16 137.1 L561.44 137.1 L560.72 136.74 L560.36 136.38 L560 135.3" stroke="#0000ff" stroke-width="1" fill="none" stroke-linecap="square" stroke-linejoin="miter"/>
<path d="M561.78 156.06 L561.06 156.42 L560.34 157.14 L559.98 157.86 L559.62 158.94 L559.62 160.02 L559.98 160.74 L560.7 161.1 L561.42 161.1 L562.14 160.74 L563.22 159.66 L563.94 158.58 L564.66 157.14 L565.02 156.06 M561.78 156.06 L562.5 156.06 L562.86 156.42 L563.22 157.14 L563.94 160.02 L564.3 160.74 L564.66 161.1 L565.02 161.1" stroke="#0000ff" stroke-width="1" fill="none" stroke-linecap="square" stroke-linejoin="miter"/>
<path d="M581.5 138.5 L588.5 138.5 M581.5 138.5 L588.5 135.5 M581.5 133.5 L588.5 135.5 M581.5 133.5 L588.5 133.5 M583.5 126.5 L588.5 126.5 M584.5 126.5 L584.5 127.5 L583.5 128.5 L583.5 129.5 L584.5 129.5 L584.5 130.5 L585.5 130.5 L586.5 130.5 L587.5 130.5 L588.5 129.5 L588.5 129.5 L588.5 128.5 L588.5 127.5 L587.5 126.5 M583.5 120.5 L589.5 120.5 L590.5 120.5 L590.5 121.5 L590.5 121.5 L590.5 122.5 L590.5 123.5 M584.5 120.5 L584.5 121.5 L583.5 121.5 L583.5 122.5 L584.5 123.5 L584.5 124.5 L585.5 124.5 L586.5 124.5 L587.5 124.5 L588.5 123.5 L588.5 122.5 L588.5 121.5 L588.5 121.5 L587.5 120.5 M587.5 117.5 L588.5 117.5 L588.5 117.5 L588.5 117.5 L587.5 117.5 M583.5 104.5 L582.5 104.5 L581.5 105.5 L581.5 106.5 L581.5 107.5 L581.5 108.5 L582.5 108.5 L583.5 109.5 L584.5 109.5 L585.5 109.5 L586.5 109.5 L587.5 108.5 L588.5 108.5 L588.5 107.5 L588.5 106.5 L588.5 105.5 L587.5 104.5 L586.5 104.5 M581.5 102.5 L588.5 102.5 M583.5 95.5 L588.5 95.5 M584.5 95.5 L584.5 96.5 L583.5 97.5 L583.5 98.5 L584.5 98.5 L584.5 99.5 L585.5 99.5 L586.5 99.5 L587.5 99.5 L588.5 98.5 L588.5 98.5 L588.5 97.5 L588.5 96.5 L587.5 95.5 M584.5 89.5 L584.5 90.5 L583.5 91.5 L583.5 92.5 L584.5 93.5 L584.5 93.5 L585.5 93.5 L585.5 92.5 L586.5 90.5 L586.5 90.5 L587.5 89.5 L587.5 89.5 L588.5 90.5 L588.5 91.5 L588.5 92.5 L588.5 93.5 L587.5 93.5 M584.5 84.5 L584.5 84.5 L583.5 85.5 L583.5 86.5 L584.5 87.5 L584.5 87.5 L585.5 87.5 L585.5 86.5 L586.5 85.5 L586.5 84.5 L587.5 84.5 L587.5 84.5 L588.5 84.5 L588.5 85.5 L588.5 86.5 L588.5 87.5 L587.5 87.5" stroke="#0000ff" stroke-width="1" fill="none" stroke-linecap="square" stroke-linejoin="miter"/>
<path d="M336.5 132.5 L502.5 132.5 M332.5 132.5 L340.5 132.5 M336.5 128.5 L336.5 136.5 M365.5 132.5 L373.5 132.5 M369.5 128.5 L369.5 136.5 M398.5 132.5 L406.5 132.5 M402.5 128.5 L402.5 136.5 M432.5 132.5 L440.5 132.5 M436.5 128.5 L436.5 136.5 M465.5 132.5 L473.5 132.5 M469.5 128.5 L469.5 136.5 M498.5 132.5 L506.5 132.5 M502.5 128.5 L502.5 136.5" stroke="#0000ff" stroke-width="1" fill="none" stroke-linecap="square" />
<path d="M336.5 223.5 L369.5 185.5 L402.5 204.5 L436.5 189.5 L469.5 185.5 L502.5 180.5 M332.5 223.5 L340.5 223.5 M336.5 219.5 L336.5 227.5 M365.5 185.5 L373.5 185.5 M369.5 181.5 L369.5 189.5 M398.5 204.5 L406.5 204.5 M402.5 200.5 L402.5 208.5 M432.5 189.5 L440.5 189.5 M436.5 185.5 L436.5 193.5 M465.5 185.5 L473.5 185.5 M469.5 181.5 L469.5 189.5 M498.5 180.5 L506.5 180.5 M502.5 176.5 L502.5 184.5" stroke="#000" stroke-width="1" fill="none" stroke-linecap="square" />
<path d="M51.5 443.5 L555.5 443.5 M51.5 392.5 L555.5 392.5 M51.5 341.5 L555.5 341.5 M51.5 290.5 L555.5 290.5" stroke="#999" stroke-width="1" fill="none" stroke-linecap="square" />
<path d="M51.5 494.5 L555.5 494.5 M51.5 266.5 L51.5 494.5 M51.5 266.5 L555.5 266.5 M555.5 266.5 L555.5 494.5 M69.5 489.5 L69.5 494.5 M69.5 266.5 L69.5 271.5 M102.5 492.5 L102.5 494.5 M102.5 266.5 L102.5 268.5 M136.5 492.5 L136.5 494.5 M136.5 266.5 L136.5 268.5 M169.5 489.5 L169.5 494.5 M169.5 266.5 L169.5 271.5 M202.5 492.5 L202.5 494.5 M202.5 266.5 L202.5 268.5 M236.5 492.5 L236.5 494.5 M236.5 266.5 L236.5 268.5 M269.5 489.5 L269.5 494.5 M269.5 266.5 L269.5 271.5 M302.5 492.5 L302.5 494.5 M302.5 266.5 L302.5 268.5 M336.5 492.5 L336.5 494.5 M336.5 266.5 L336.5 268.5 M369.5 489.5 L369.5 494.5 M369.5 266.5 L369.5 271.5 M402.5 492.5 L402.5 494.5 M402.5 266.5 L402.5 268.5 M436.5 492.5 L436.5 494.5 M436.5 266.5 L436.5 268.5 M469.5 489.5 L469.5 494.5 M469.5 266.5 L469.5 271.5 M502.5 492.5 L502.5 494.5 M502.5 266.5 L502.5 268.5 M536.5 492.5 L536.5 494.5 M536.5 266.5 L536.5 268.5 M51.5 479.5 L56.5 479.5 M550.5 479.5 L555.5 479.5 M51.5 470.5 L56.5 470.5 M550.5 470.5 L555.5 470.5 M51.5 463.5 L56.5 463.5 M550.5 463.5 L555.5 463.5 M51.5 458.5 L56.5 458.5 M550.5 458.5 L555.5 458.5 M51.5 454.5 L56.5 454.5 M550.5 454.5 L555.5 454.5 M51.5 451.5 L56.5 451.5 M550.5 451.5 L555.5 451.5 M51.5 448.5 L56.5 448.5 M550.5 448.5 L555.5 448.5 M51.5 445.5 L56.5 445.5 M550.5 445.5 L555.5 445.5 M51.5 443.5 L61.5 443.5 M545.5 443.5 L555.5 443.5 M51.5 428.5 L56.5 428.5 M550.5 428.5 L555.5 428.5 M51.5 419.5 L56.5 419.5 M550.5 419.5 L555.5 419.5 M51.5 412.5 L56.5 412.5 M550.5 412.5 L555.5 412.5 M51.5 407.5 L56.5 407.5 M550.5 407.5 L555.5 407.5 M51.5 403.5 L56.5 403.5 M550.5 403.5 L555.5 403.5 M51.5 400.5 L56.5 400.5 M550.5 400.5 L555.5 400.5 M51.5 397.5 L56.5 397.5 M550.5 397.5 L555.5 397.5 M51.5 394.5 L56.5 394.5 M550.5 394.5 L555.5 394.5 M51.5 392.5 L61.5 392.5 M545.5 392.5 L555.5 392.5 M51.5 377.5 L56.5 377.5 M550.5 377.5 L555.5 377.5 M51.5 368.5 L56.5 368.5 M550.5 368.5 L555.5 368.5 M51.5 361.5 L56.5 361.5 M550.5 361.5 L555.5 361.5 M51.5 356.5 L56.5 356.5 M550.5 356.5 L555.5 356.5 M51.5 352.5 L56.5 352.5 M550.5 352.5 L555.5 352.5 M51.5 349.5 L56.5 349.5 M550.5 349.5 L555.5 349.5 M51.5 346.5 L56.5 346.5 M550.5 346.5 L555.5 346.5 M51.5 343.5 L56.5 343.5 M550.5 343.5 L555.5 343.5 M51.5 341.5 L61.5 341.5 M545.5 341.5 L555.5 341.5 M51.5 326.5 L56.5 326.5 M550.5 326.5 L555.5 326.5 M51.5 317.5 L56.5 317.5 M550.5 317.5 L555.5 317.5 M51.5 310.5 L56.5 310.5 M550.5 310.5 L555.5 310.5 M51.5 305.5 L56.5 305.5 M550.5 305.5 L555.5 305.5 M51.5 301.5 L56.5 301.5 M550.5 301.5 L555.5 301.5 M51.5 298.5 L56.5 298.5 M550.5 298.5 L555.5 298.5 M51.5 295.5 L56.5 295.5 M550.5 295.5 L555.5 295.5 M51.5 292.5 L56.5 292.5 M550.5 292.5 L555.5 292.5 M51.5 290.5 L61.5 290.5 M545.5 290.5 L555.5 290.5 M51.5 275.5 L56.5 275.5 M550.5 275.5 L555.5 275.5" stroke="#000" stroke-width="1" fill="none" stroke-linecap="square" />
<path d="M42.5 487.5 L42.5 494.5 M42.5 487.5 L45.5 487.5 L46.5 487.5 L46.5 488.5 L46.5 488.5 L46.5 489.5 L46.5 490.5 L46.5 490.5 L45.5 490.5 M42.5 490.5 L45.5 490.5 L46.5 491.5 L46.5 491.5 L46.5 492.5 L46.5 493.5 L46.5 493.5 L46.5 494.5 L45.5 494.5 L42.5 494.5" stroke="#000" stroke-width="1" fill="none" stroke-linecap="square" stroke-linejoin="miter"/>
<path d="M46.5 442.5 L46.5 441.5 L45.5 440.5 L45.5 440.5 L43.5 440.5 L43.5 440.5 L42.5 441.5 L42.5 442.5 L41.5 443.5 L41.5 444.5 L42.5 445.5 L42.5 446.5 L43.5 447.5 L43.5 447.5 L45.5 447.5 L45.5 447.5 L46.5 446.5 L46.5 445.5" stroke="#000" stroke-width="1" fill="none" stroke-linecap="square" stroke-linejoin="miter"/>
<path d="M41.5 389.5 L41.5 396.5 M41.5 389.5 L43.5 396.5 M46.5 389.5 L43.5 396.5 M46.5 389.5 L46.5 396.5" stroke="#000" stroke-width="1" fill="none" stroke-linecap="square" stroke-linejoin="miter"/>
<path d="M42.5 338.5 L46.5 345.5 M46.5 338.5 L42.5 345.5" stroke="#000" stroke-width="1" fill="none" stroke-linecap="square" stroke-linejoin="miter"/>
<path d="M28.5 287.5 L33.5 294.5 M33.5 287.5 L28.5 294.5 M36.5 288.5 L37.5 288.5 L38.5 287.5 L38.5 294.5 M44.5 287.5 L43.5 287.5 L42.5 288.5 L42.5 290.5 L42.5 291.5 L42.5 293.5 L43.5 294.5 L44.5 294.5 L44.5 294.5 L45.5 294.5 L46.5 293.5 L46.5 291.5 L46.5 290.5 L46.5 288.5 L45.5 287.5 L44.5 287.5 L44.5 287.5" stroke="#000" stroke-width="1" fill="none" stroke-linecap="square" stroke-linejoin="miter"/>
<path d="M55.5 501.5 L54.5 501.5 L53.5 502.5 L53.5 504.5 L53.5 505.5 L53.5 507.5 L54.5 508.5 L55.5 508.5 L55.5 508.5 L56.5 508.5 L57.5 507.5 L57.5 505.5 L57.5 504.5 L57.5 502.5 L56.5 501.5 L55.5 501.5 L55.5 501.5 M63.5 501.5 L60.5 501.5 L60.5 504.5 L60.5 504.5 L61.5 503.5 L62.5 503.5 L63.5 504.5 L64.5 504.5 L64.5 505.5 L64.5 506.5 L64.5 507.5 L63.5 508.5 L62.5 508.5 L61.5 508.5 L60.5 508.5 L60.5 507.5 L59.5 507.5 M72.5 500.5 L66.5 510.5 M75.5 501.5 L74.5 501.5 L74.5 502.5 L73.5 504.5 L73.5 505.5 L74.5 507.5 L74.5 508.5 L75.5 508.5 L76.5 508.5 L77.5 508.5 L78.5 507.5 L78.5 505.5 L78.5 504.5 L78.5 502.5 L77.5 501.5 L76.5 501.5 L75.5 501.5 M82.5 501.5 L81.5 501.5 L80.5 502.5 L80.5 503.5 L81.5 503.5 L81.5 504.5 L83.5 504.5 L84.5 504.5 L84.5 505.5 L85.5 506.5 L85.5 507.5 L84.5 507.5 L84.5 508.5 L83.5 508.5 L82.5 508.5 L81.5 508.5 L80.5 507.5 L80.5 507.5 L80.5 506.5 L80.5 505.5 L81.5 504.5 L82.5 504.5 L83.5 504.5 L84.5 503.5 L84.5 503.5 L84.5 502.5 L84.5 501.5 L83.5 501.5 L82.5 501.5" stroke="#000" stroke-width="1" fill="none" stroke-linecap="square" stroke-linejoin="miter"/>
<path d="M155.5 501.5 L154.5 501.5 L153.5 502.5 L153.5 504.5 L153.5 505.5 L153.5 507.5 L154.5 508.5 L155.5 508.5 L155.5 508.5 L156.5 508.5 L157.5 507.5 L157.5 505.5 L157.5 504.5 L157.5 502.5 L156.5 501.5 L155.5 501.5 L155.5 501.5 M163.5 501.5 L160.5 501.5 L160.5 504.5 L160.5 504.5 L161.5 503.5 L162.5 503.5 L163.5 504.5 L164.5 504.5 L164.5 505.5 L164.5 506.5 L164.5 507.5 L163.5 508.5 L162.5 508.5 L161.5 508.5 L160.5 508.5 L160.5 507.5 L159.5 507.5 M172.5 500.5 L166.5 510.5 M174.5 502.5 L175.5 502.5 L176.5 501.5 L176.5 508.5 M181.5 502.5 L182.5 502.5 L183.5 501.5 L183.5 508.5" stroke="#000" stroke-width="1" fill="none" stroke-linecap="square" stroke-linejoin="miter"/>
<path d="M255.5 501.5 L254.5 501.5 L253.5 502.5 L253.5 504.5 L253.5 505.5 L253.5 507.5 L254.5 508.5 L255.5 508.5 L255.5 508.5 L256.5 508.5 L257.5 507.5 L257.5 505.5 L257.5 504.5 L257.5 502.5 L256.5 501.5 L255.5 501.5 L255.5 501.5 M263.5 501.5 L260.5 501.5 L260.5 504.5 L260.5 504.5 L261.5 503.5 L262.5 503.5 L263.5 504.5 L264.5 504.5 L264.5 505.5 L264.5 506.5 L264.5 507.5 L263.5 508.5 L262.5 508.5 L261.5 508.5 L260.5 508.5 L260.5 507.5 L259.5 507.5 M272.5 500.5 L266.5 510.5 M274.5 502.5 L275.5 502.5 L276.5 501.5 L276.5 508.5 M283.5 501.5 L280.5 506.5 L285.5 506.5 M283.5 501.5 L283.5 508.5" stroke="#000" stroke-width="1" fill="none" stroke-linecap="square" stroke-linejoin="miter"/>
<path d="M355.5 501.5 L354.5 501.5 L353.5 502.5 L353.5 504.5 L353.5 505.5 L353.5 507.5 L354.5 508.5 L355.5 508.5 L355.5 508.5 L356.5 508.5 L357.5 507.5 L357.5 505.5 L357.5 504.5 L357.5 502.5 L356.5 501.5 L355.5 501.5 L355.5 501.5 M363.5 501.5 L360.5 501.5 L360.5 504.5 L360.5 504.5 L361.5 503.5 L362.5 503.5 L363.5 504.5 L364.5 504.5 L364.5 505.5 L364.5 506.5 L364.5 507.5 L363.5 508.5 L362.5 508.5 L361.5 508.5 L360.5 508.5 L360.5 507.5 L359.5 507.5 M372.5 500.5 L366.5 510.5 M374.5 502.5 L375.5 502.5 L376.5 501.5 L376.5 508.5 M385.5 501.5 L381.5 508.5 M380.5 501.5 L385.5 501.5" stroke="#000" stroke-width="1" fill="none" stroke-linecap="square" stroke-linejoin="miter"/>
<path d="M455.5 501.5 L454.5 501.5 L453.5 502.5 L453.5 504.5 L453.5 505.5 L453.5 507.5 L454.5 508.5 L455.5 508.5 L455.5 508.5 L456.5 508.5 L457.5 507.5 L457.5 505.5 L457.5 504.5 L457.5 502.5 L456.5 501.5 L455.5 501.5 L455.5 501.5 M463.5 501.5 L460.5 501.5 L460.5 504.5 L460.5 504.5 L461.5 503.5 L462.5 503.5 L463.5 504.5 L464.5 504.5 L464.5 505.5 L464.5 506.5 L464.5 507.5 L463.5 508.5 L462.5 508.5 L461.5 508.5 L460.5 508.5 L460.5 507.5 L459.5 507.5 M472.5 500.5 L466.5 510.5 M474.5 503.5 L474.5 502.5 L474.5 502.5 L474.5 501.5 L475.5 501.5 L476.5 501.5 L477.5 501.5 L477.5 502.5 L478.5 502.5 L478.5 503.5 L477.5 504.5 L477.5 505.5 L473.5 508.5 L478.5 508.5 M482.5 501.5 L481.5 501.5 L480.5 502.5 L480.5 504.5 L480.5 505.5 L480.5 507.5 L481.5 508.5 L482.5 508.5 L483.5 508.5 L484.5 508.5 L484.5 507.5 L485.5 505.5 L485.5 504.5 L484.5 502.5 L484.5 501.5 L483.5 501.5 L482.5 501.5" stroke="#000" stroke-width="1" fill="none" stroke-linecap="square" stroke-linejoin="miter"/>
<path d="M85.5 488.5 L85.5 494.5 M85.5 474.5 L85.5 480.5 M85.5 460.5 L85.5 466.5 M85.5 446.5 L85.5 452.5 M85.5 432.5 L85.5 438.5 M85.5 418.5 L85.5 424.5 M85.5 404.5 L85.5 410.5 M85.5 390.5 L85.5 396.5 M85.5 376.5 L85.5 382.5 M85.5 362.5 L85.5 368.5 M85.5 348.5 L85.5 354.5 M85.5 334.5 L85.5 340.5 M85.5 320.5 L85.5 326.5 M85.5 306.5 L85.5 312.5 M85.5 292.5 L85.5 298.5 M85.5 278.5 L85.5 284.5 M85.5 266.5 L85.5 270.5 M522.5 479.5 L522.5 485.5 M522.5 465.5 L522.5 471.5 M522.5 451.5 L522.5 457.5 M522.5 437.5 L522.5 443.5 M522.5 423.5 L522.5 429.5 M522.5 409.5 L522.5 415.5 M522.5 395.5 L522.5 401.5 M522.5 381.5 L522.5 387.5 M522.5 367.5 L522.5 373.5 M522.5 353.5 L522.5 359.5 M522.5 339.5 L522.5 345.5 M522.5 325.5 L522.5 331.5 M522.5 311.5 L522.5 317.5 M522.5 297.5 L522.5 303.5 M522.5 283.5 L522.5 289.5 M522.5 269.5 L522.5 275.5 M522.5 493.5 L522.5 494.5" stroke="#000" stroke-width="1" fill="none" stroke-linecap="square" />
<path d="M11.5 427.5 L18.5 427.5 M11.5 427.5 L11.5 423.5 M14.5 427.5 L14.5 425.5 M11.5 421.5 L18.5 421.5 M13.5 415.5 L18.5 415.5 M14.5 415.5 L14.5 416.5 L13.5 416.5 L13.5 417.5 L14.5 418.5 L14.5 419.5 L15.5 419.5 L16.5 419.5 L17.5 419.5 L18.5 418.5 L18.5 417.5 L18.5 416.5 L18.5 416.5 L17.5 415.5 M13.5 412.5 L18.5 412.5 M15.5 412.5 L14.5 412.5 L14.5 411.5 L13.5 410.5 L13.5 409.5 M15.5 408.5 L15.5 404.5 L15.5 404.5 L14.5 404.5 L14.5 405.5 L13.5 405.5 L13.5 406.5 L14.5 407.5 L14.5 408.5 L15.5 408.5 L16.5 408.5 L17.5 408.5 L18.5 407.5 L18.5 406.5 L18.5 405.5 L18.5 405.5 L17.5 404.5 M11.5 396.5 L18.5 392.5 M11.5 392.5 L18.5 396.5 M15.5 389.5 L15.5 383.5 M13.5 380.5 L18.5 380.5 M15.5 380.5 L14.5 380.5 L14.5 379.5 L13.5 379.5 L13.5 378.5 M13.5 372.5 L18.5 372.5 M14.5 372.5 L14.5 373.5 L13.5 374.5 L13.5 375.5 L14.5 375.5 L14.5 376.5 L15.5 376.5 L16.5 376.5 L17.5 376.5 L18.5 375.5 L18.5 375.5 L18.5 374.5 L18.5 373.5 L17.5 372.5 M13.5 370.5 L18.5 368.5 M13.5 366.5 L18.5 368.5 L19.5 369.5 L20.5 370.5 L20.5 370.5 L20.5 371.5 M13.5 354.5 L12.5 354.5 L11.5 355.5 L11.5 356.5 L11.5 357.5 L11.5 358.5 L12.5 358.5 L13.5 359.5 L14.5 359.5 L15.5 359.5 L16.5 359.5 L17.5 358.5 L18.5 358.5 L18.5 357.5 L18.5 356.5 L18.5 355.5 L17.5 354.5 L16.5 354.5 M11.5 352.5 L18.5 352.5 M13.5 345.5 L18.5 345.5 M14.5 345.5 L14.5 346.5 L13.5 346.5 L13.5 348.5 L14.5 348.5 L14.5 349.5 L15.5 349.5 L16.5 349.5 L17.5 349.5 L18.5 348.5 L18.5 348.5 L18.5 346.5 L18.5 346.5 L17.5 345.5 M14.5 339.5 L14.5 339.5 L13.5 340.5 L13.5 341.5 L14.5 342.5 L14.5 343.5 L15.5 342.5 L15.5 342.5 L16.5 340.5 L16.5 339.5 L17.5 339.5 L17.5 339.5 L18.5 339.5 L18.5 340.5 L18.5 341.5 L18.5 342.5 L17.5 343.5 M14.5 333.5 L14.5 334.5 L13.5 335.5 L13.5 336.5 L14.5 337.5 L14.5 337.5 L15.5 337.5 L15.5 336.5 L16.5 334.5 L16.5 334.5 L17.5 333.5 L17.5 333.5 L18.5 334.5 L18.5 335.5 L18.5 336.5 L18.5 337.5 L17.5 337.5" stroke="#000" stroke-width="1" fill="none" stroke-linecap="square" stroke-linejoin="miter"/>
<path d="M567.5 448.5 L575.5 448.5 M567.5 448.5 L567.5 443.5 M571.5 448.5 L571.5 445.5 M567.5 441.5 L575.5 441.5 M569.5 433.5 L575.5 433.5 M571.5 433.5 L570.5 434.5 L569.5 435.5 L569.5 436.5 L570.5 437.5 L571.5 438.5 L572.5 438.5 L573.5 438.5 L574.5 438.5 L575.5 437.5 L575.5 436.5 L575.5 435.5 L575.5 434.5 L574.5 433.5 M569.5 430.5 L575.5 430.5 M572.5 430.5 L571.5 430.5 L570.5 429.5 L569.5 428.5 L569.5 427.5 M572.5 425.5 L572.5 420.5 L571.5 420.5 L570.5 421.5 L570.5 421.5 L569.5 422.5 L569.5 423.5 L570.5 424.5 L571.5 425.5 L572.5 425.5 L573.5 425.5 L574.5 425.5 L575.5 424.5 L575.5 423.5 L575.5 422.5 L575.5 421.5 L574.5 420.5 M571.5 414.5 L570.5 414.5 L569.5 415.5 L569.5 416.5 L570.5 418.5 L571.5 418.5 L571.5 418.5 L572.5 417.5 L572.5 415.5 L573.5 414.5 L573.5 414.5 L574.5 414.5 L575.5 414.5 L575.5 415.5 L575.5 416.5 L575.5 418.5 L574.5 418.5 M569.5 403.5 L570.5 403.5 L571.5 404.5 L572.5 405.5 L573.5 405.5 L574.5 404.5 L575.5 403.5 L575.5 403.5 L575.5 401.5 L575.5 401.5 L574.5 400.5 L573.5 399.5 L572.5 399.5 L571.5 400.5 L570.5 401.5 L569.5 401.5 L569.5 403.5 M567.5 397.5 L575.5 397.5 M571.5 397.5 L570.5 396.5 L569.5 395.5 L569.5 394.5 L570.5 393.5 L571.5 392.5 L572.5 392.5 L573.5 392.5 L574.5 392.5 L575.5 393.5 L575.5 394.5 L575.5 395.5 L575.5 396.5 L574.5 397.5 M571.5 385.5 L570.5 385.5 L569.5 386.5 L569.5 388.5 L570.5 389.5 L571.5 389.5 L571.5 389.5 L572.5 388.5 L572.5 386.5 L573.5 385.5 L573.5 385.5 L574.5 385.5 L575.5 385.5 L575.5 386.5 L575.5 388.5 L575.5 389.5 L574.5 389.5 M572.5 382.5 L572.5 378.5 L571.5 378.5 L570.5 378.5 L570.5 378.5 L569.5 379.5 L569.5 380.5 L570.5 381.5 L571.5 382.5 L572.5 382.5 L573.5 382.5 L574.5 382.5 L575.5 381.5 L575.5 380.5 L575.5 379.5 L575.5 378.5 L574.5 378.5 M569.5 375.5 L575.5 375.5 M572.5 375.5 L571.5 374.5 L570.5 374.5 L569.5 373.5 L569.5 372.5 M569.5 370.5 L575.5 368.5 M569.5 365.5 L575.5 368.5 M572.5 363.5 L572.5 359.5 L571.5 359.5 L570.5 359.5 L570.5 359.5 L569.5 360.5 L569.5 361.5 L570.5 362.5 L571.5 363.5 L572.5 363.5 L573.5 363.5 L574.5 363.5 L575.5 362.5 L575.5 361.5 L575.5 360.5 L575.5 359.5 L574.5 359.5 M567.5 351.5 L575.5 351.5 M571.5 351.5 L570.5 352.5 L569.5 353.5 L569.5 354.5 L570.5 355.5 L571.5 356.5 L572.5 356.5 L573.5 356.5 L574.5 356.5 L575.5 355.5 L575.5 354.5 L575.5 353.5 L575.5 352.5 L574.5 351.5 M567.5 342.5 L567.5 342.5 L567.5 341.5 L566.5 342.5 L567.5 342.5 M569.5 342.5 L575.5 342.5 M569.5 338.5 L575.5 338.5 M571.5 338.5 L570.5 337.5 L569.5 336.5 L569.5 335.5 L570.5 334.5 L571.5 334.5 L575.5 334.5 M567.5 322.5 L575.5 325.5 M567.5 322.5 L575.5 319.5 M572.5 324.5 L572.5 320.5 M567.5 317.5 L575.5 317.5 M567.5 317.5 L567.5 313.5 L567.5 312.5 L567.5 312.5 L568.5 311.5 L569.5 311.5 L570.5 312.5 L570.5 312.5 L571.5 313.5 L571.5 317.5 M571.5 314.5 L575.5 311.5" stroke="#000" stroke-width="1" fill="none" stroke-linecap="square" stroke-linejoin="miter"/>
<path d="M566.5 281.5 L566.5 280.5 L565.5 279.5 L564.5 279.5 L563.5 279.5 L562.5 279.5 L562.5 280.5 L561.5 281.5 L561.5 282.5 L561.5 283.5 L561.5 284.5 L562.5 285.5 L562.5 286.5 L563.5 286.5 L564.5 286.5 L565.5 286.5 L566.5 285.5 L566.5 284.5 M568.5 279.5 L568.5 286.5 M568.5 279.5 L571.5 286.5 M574.5 279.5 L571.5 286.5 M574.5 279.5 L574.5 286.5 M576.5 279.5 L576.5 286.5 M576.5 279.5 L581.5 279.5 M576.5 282.5 L579.5 282.5 M576.5 286.5 L581.5 286.5 M586.5 282.5 L586.5 282.5 L585.5 281.5 L584.5 281.5 L583.5 282.5 L582.5 282.5 L583.5 283.5 L583.5 283.5 L585.5 284.5 L586.5 284.5 L586.5 285.5 L586.5 285.5 L586.5 286.5 L585.5 286.5 L584.5 286.5 L583.5 286.5 L582.5 285.5" stroke="#ff0000" stroke-width="1" fill="none" stroke-linecap="square" stroke-linejoin="miter"/>
<path d="M208.5 518.5 L208.5 517.5 L207.5 517.5 L205.5 517.5 L204.5 517.5 L203.5 518.5 L203.5 518.5 L204.5 519.5 L204.5 520.5 L205.5 520.5 L207.5 521.5 L208.5 521.5 L208.5 521.5 L208.5 522.5 L208.5 523.5 L208.5 524.5 L207.5 524.5 L205.5 524.5 L204.5 524.5 L203.5 523.5 M211.5 517.5 L211.5 523.5 L212.5 524.5 L213.5 524.5 L213.5 524.5 M210.5 519.5 L213.5 519.5 M220.5 519.5 L220.5 524.5 M220.5 520.5 L219.5 520.5 L218.5 519.5 L217.5 519.5 L216.5 520.5 L216.5 520.5 L215.5 521.5 L215.5 522.5 L216.5 523.5 L216.5 524.5 L217.5 524.5 L218.5 524.5 L219.5 524.5 L220.5 523.5 M223.5 519.5 L223.5 524.5 M223.5 521.5 L223.5 520.5 L224.5 520.5 L225.5 519.5 L226.5 519.5 M228.5 517.5 L228.5 523.5 L228.5 524.5 L229.5 524.5 L230.5 524.5 M227.5 519.5 L230.5 519.5 M240.5 517.5 L240.5 524.5 M237.5 517.5 L242.5 517.5 M244.5 517.5 L244.5 517.5 L245.5 517.5 L244.5 516.5 L244.5 517.5 M244.5 519.5 L244.5 524.5 M247.5 519.5 L247.5 524.5 M247.5 521.5 L248.5 520.5 L249.5 519.5 L250.5 519.5 L251.5 520.5 L252.5 521.5 L252.5 524.5 M252.5 521.5 L253.5 520.5 L253.5 519.5 L255.5 519.5 L255.5 520.5 L256.5 521.5 L256.5 524.5 M258.5 521.5 L263.5 521.5 L263.5 521.5 L262.5 520.5 L262.5 520.5 L261.5 519.5 L260.5 519.5 L259.5 520.5 L259.5 520.5 L258.5 521.5 L258.5 522.5 L259.5 523.5 L259.5 524.5 L260.5 524.5 L261.5 524.5 L262.5 524.5 L263.5 523.5 M266.5 519.5 L266.5 520.5 L266.5 520.5 L266.5 520.5 L266.5 519.5 M266.5 524.5 L266.5 524.5 L266.5 524.5 L266.5 524.5 L266.5 524.5 M278.5 515.5 L277.5 516.5 L276.5 517.5 L276.5 518.5 L275.5 520.5 L275.5 522.5 L276.5 524.5 L276.5 525.5 L277.5 526.5 L278.5 527.5 M281.5 518.5 L281.5 518.5 L281.5 517.5 L281.5 517.5 L282.5 517.5 L284.5 517.5 L284.5 517.5 L285.5 517.5 L285.5 518.5 L285.5 519.5 L285.5 520.5 L284.5 521.5 L280.5 524.5 L286.5 524.5 M290.5 517.5 L289.5 517.5 L288.5 518.5 L288.5 520.5 L288.5 521.5 L288.5 523.5 L289.5 524.5 L290.5 524.5 L291.5 524.5 L292.5 524.5 L293.5 523.5 L293.5 521.5 L293.5 520.5 L293.5 518.5 L292.5 517.5 L291.5 517.5 L290.5 517.5 M296.5 518.5 L297.5 518.5 L298.5 517.5 L298.5 524.5 M304.5 517.5 L308.5 517.5 L306.5 520.5 L307.5 520.5 L307.5 520.5 L308.5 520.5 L308.5 521.5 L308.5 522.5 L308.5 523.5 L307.5 524.5 L306.5 524.5 L305.5 524.5 L304.5 524.5 L303.5 524.5 L303.5 523.5 M317.5 515.5 L310.5 527.5 M321.5 517.5 L320.5 517.5 L319.5 518.5 L319.5 520.5 L319.5 521.5 L319.5 523.5 L320.5 524.5 L321.5 524.5 L322.5 524.5 L323.5 524.5 L324.5 523.5 L324.5 521.5 L324.5 520.5 L324.5 518.5 L323.5 517.5 L322.5 517.5 L321.5 517.5 M331.5 517.5 L327.5 517.5 L327.5 520.5 L327.5 520.5 L328.5 519.5 L329.5 519.5 L331.5 520.5 L331.5 520.5 L332.5 521.5 L332.5 522.5 L331.5 523.5 L331.5 524.5 L329.5 524.5 L328.5 524.5 L327.5 524.5 L327.5 524.5 L326.5 523.5 M340.5 515.5 L334.5 527.5 M345.5 517.5 L343.5 517.5 L343.5 518.5 L342.5 520.5 L342.5 521.5 L343.5 523.5 L343.5 524.5 L345.5 524.5 L345.5 524.5 L346.5 524.5 L347.5 523.5 L348.5 521.5 L348.5 520.5 L347.5 518.5 L346.5 517.5 L345.5 517.5 L345.5 517.5 M355.5 517.5 L351.5 524.5 M350.5 517.5 L355.5 517.5 M365.5 518.5 L365.5 518.5 L366.5 517.5 L366.5 524.5 M372.5 518.5 L373.5 518.5 L374.5 517.5 L374.5 524.5 M379.5 519.5 L379.5 520.5 L379.5 520.5 L380.5 520.5 L379.5 519.5 M379.5 524.5 L379.5 524.5 L379.5 524.5 L380.5 524.5 L379.5 524.5 M385.5 517.5 L383.5 517.5 L383.5 518.5 L382.5 520.5 L382.5 521.5 L383.5 523.5 L383.5 524.5 L385.5 524.5 L385.5 524.5 L386.5 524.5 L387.5 523.5 L388.5 521.5 L388.5 520.5 L387.5 518.5 L386.5 517.5 L385.5 517.5 L385.5 517.5 M394.5 517.5 L391.5 517.5 L390.5 520.5 L391.5 520.5 L392.5 519.5 L393.5 519.5 L394.5 520.5 L395.5 520.5 L395.5 521.5 L395.5 522.5 L395.5 523.5 L394.5 524.5 L393.5 524.5 L392.5 524.5 L391.5 524.5 L390.5 524.5 L390.5 523.5 M397.5 515.5 L398.5 516.5 L399.5 517.5 L400.5 518.5 L400.5 520.5 L400.5 522.5 L400.5 524.5 L399.5 525.5 L398.5 526.5 L397.5 527.5" stroke="#000" stroke-width="1" fill="none" stroke-linecap="square" stroke-linejoin="miter"/>
<rect x="128" y="270" width="2" height="20" fill="#ff0000"/>
<rect x="239" y="270" width="2" height="20" fill="#ff0000"/>
<rect x="251" y="270" width="1" height="20" fill="#ff0000"/>
<rect x="257" y="270" width="1" height="20" fill="#ff0000"/>
<rect x="259" y="270" width="1" height="20" fill="#ff0000"/>
<rect x="270" y="270" width="2" height="20" fill="#ff0000"/>
<rect x="299" y="270" width="1" height="20" fill="#ff0000"/>
<rect x="304" y="270" width="1" height="20" fill="#ff0000"/>
<rect x="306" y="270" width="1" height="20" fill="#ff0000"/>
<rect x="370" y="270" width="1" height="20" fill="#ff0000"/>
<rect x="382" y="270" width="1" height="20" fill="#ff0000"/>
<rect x="550" y="270" width="2" height="20" fill="#ff0000"/>
<path d="M448.5 416.5 L448.5 494.5 M452.5 441.5 L452.5 494.5 M453.5 435.5 L453.5 494.5 M455.5 441.5 L455.5 494.5 M457.5 402.5 L457.5 494.5 M465.5 409.5 L465.5 494.5 M469.5 489.5 L469.5 494.5 M470.5 412.5 L470.5 494.5 M533.5 434.5 L533.5 494.5" stroke="#000" stroke-width="1" fill="none" stroke-linecap="square" />
<path d="M64.5 458.5 L97.5 462.5 L130.5 457.5 L164.5 452.5 L197.5 448.5 L230.5 447.5 L264.5 441.5 L297.5 451.5 L330.5 449.5 L364.5 454.5 L397.5 456.5 L430.5 459.5 L463.5 455.5 L497.5 451.5 L530.5 456.5 M60.5 458.5 L68.5 458.5 M64.5 454.5 L64.5 462.5 M93.5 462.5 L101.5 462.5 M97.5 458.5 L97.5 466.5 M126.5 457.5 L134.5 457.5 M130.5 453.5 L130.5 461.5 M160.5 452.5 L168.5 452.5 M164.5 448.5 L164.5 456.5 M193.5 448.5 L201.5 448.5 M197.5 444.5 L197.5 452.5 M226.5 447.5 L234.5 447.5 M230.5 443.5 L230.5 451.5 M260.5 441.5 L268.5 441.5 M264.5 437.5 L264.5 445.5 M293.5 451.5 L301.5 451.5 M297.5 447.5 L297.5 455.5 M326.5 449.5 L334.5 449.5 M330.5 445.5 L330.5 453.5 M360.5 454.5 L368.5 454.5 M364.5 450.5 L364.5 458.5 M393.5 456.5 L401.5 456.5 M397.5 452.5 L397.5 460.5 M426.5 459.5 L434.5 459.5 M430.5 455.5 L430.5 463.5 M459.5 455.5 L467.5 455.5 M463.5 451.5 L463.5 459.5 M493.5 451.5 L501.5 451.5 M497.5 447.5 L497.5 455.5 M526.5 456.5 L534.5 456.5 M530.5 452.5 L530.5 460.5" stroke="#ff0000" stroke-width="1" fill="none" stroke-linecap="square" />
<path d="M51.5 710.5 L555.5 710.5 M51.5 659.5 L555.5 659.5 M51.5 608.5 L555.5 608.5 M51.5 557.5 L555.5 557.5" stroke="#999" stroke-width="1" fill="none" stroke-linecap="square" />
<path d="M51.5 761.5 L555.5 761.5 M51.5 532.5 L51.5 761.5 M51.5 532.5 L555.5 532.5 M555.5 532.5 L555.5 761.5 M69.5 756.5 L69.5 761.5 M69.5 532.5 L69.5 537.5 M102.5 759.5 L102.5 761.5 M102.5 532.5 L102.5 534.5 M136.5 759.5 L136.5 761.5 M136.5 532.5 L136.5 534.5 M169.5 756.5 L169.5 761.5 M169.5 532.5 L169.5 537.5 M202.5 759.5 L202.5 761.5 M202.5 532.5 L202.5 534.5 M236.5 759.5 L236.5 761.5 M236.5 532.5 L236.5 534.5 M269.5 756.5 L269.5 761.5 M269.5 532.5 L269.5 537.5 M302.5 759.5 L302.5 761.5 M302.5 532.5 L302.5 534.5 M336.5 759.5 L336.5 761.5 M336.5 532.5 L336.5 534.5 M369.5 756.5 L369.5 761.5 M369.5 532.5 L369.5 537.5 M402.5 759.5 L402.5 761.5 M402.5 532.5 L402.5 534.5 M436.5 759.5 L436.5 761.5 M436.5 532.5 L436.5 534.5 M469.5 756.5 L469.5 761.5 M469.5 532.5 L469.5 537.5 M502.5 759.5 L502.5 761.5 M502.5 532.5 L502.5 534.5 M536.5 759.5 L536.5 761.5 M536.5 532.5 L536.5 534.5 M51.5 746.5 L56.5 746.5 M550.5 746.5 L555.5 746.5 M51.5 737.5 L56.5 737.5 M550.5 737.5 L555.5 737.5 M51.5 730.5 L56.5 730.5 M550.5 730.5 L555.5 730.5 M51.5 725.5 L56.5 725.5 M550.5 725.5 L555.5 725.5 M51.5 721.5 L56.5 721.5 M550.5 721.5 L555.5 721.5 M51.5 718.5 L56.5 718.5 M550.5 718.5 L555.5 718.5 M51.5 715.5 L56.5 715.5 M550.5 715.5 L555.5 715.5 M51.5 712.5 L56.5 712.5 M550.5 712.5 L555.5 712.5 M51.5 710.5 L61.5 710.5 M545.5 710.5 L555.5 710.5 M51.5 695.5 L56.5 695.5 M550.5 695.5 L555.5 695.5 M51.5 686.5 L56.5 686.5 M550.5 686.5 L555.5 686.5 M51.5 679.5 L56.5 679.5 M550.5 679.5 L555.5 679.5 M51.5 674.5 L56.5 674.5 M550.5 674.5 L555.5 674.5 M51.5 670.5 L56.5 670.5 M550.5 670.5 L555.5 670.5 M51.5 667.5 L56.5 667.5 M550.5 667.5 L555.5 667.5 M51.5 664.5 L56.5 664.5 M550.5 664.5 L555.5 664.5 M51.5 661.5 L56.5 661.5 M550.5 661.5 L555.5 661.5 M51.5 659.5 L61.5 659.5 M545.5 659.5 L555.5 659.5 M51.5 644.5 L56.5 644.5 M550.5 644.5 L555.5 644.5 M51.5 635.5 L56.5 635.5 M550.5 635.5 L555.5 635.5 M51.5 628.5 L56.5 628.5 M550.5 628.5 L555.5 628.5 M51.5 623.5 L56.5 623.5 M550.5 623.5 L555.5 623.5 M51.5 619.5 L56.5 619.5 M550.5 619.5 L555.5 619.5 M51.5 616.5 L56.5 616.5 M550.5 616.5 L555.5 616.5 M51.5 613.5 L56.5 613.5 M550.5 613.5 L555.5 613.5 M51.5 610.5 L56.5 610.5 M550.5 610.5 L555.5 610.5 M51.5 608.5 L61.5 608.5 M545.5 608.5 L555.5 608.5 M51.5 593.5 L56.5 593.5 M550.5 593.5 L555.5 593.5 M51.5 584.5 L56.5 584.5 M550.5 584.5 L555.5 584.5 M51.5 577.5 L56.5 577.5 M550.5 577.5 L555.5 577.5 M51.5 572.5 L56.5 572.5 M550.5 572.5 L555.5 572.5 M51.5 568.5 L56.5 568.5 M550.5 568.5 L555.5 568.5 M51.5 565.5 L56.5 565.5 M550.5 565.5 L555.5 565.5 M51.5 562.5 L56.5 562.5 M550.5 562.5 L555.5 562.5 M51.5 559.5 L56.5 559.5 M550.5 559.5 L555.5 559.5 M51.5 557.5 L61.5 557.5 M545.5 557.5 L555.5 557.5 M51.5 542.5 L56.5 542.5 M550.5 542.5 L555.5 542.5 M51.5 533.5 L56.5 533.5 M550.5 533.5 L555.5 533.5" stroke="#000" stroke-width="1" fill="none" stroke-linecap="square" />
<path d="M42.5 754.5 L42.5 761.5 M42.5 754.5 L45.5 754.5 L46.5 754.5 L46.5 755.5 L46.5 755.5 L46.5 756.5 L46.5 757.5 L46.5 757.5 L45.5 757.5 M42.5 757.5 L45.5 757.5 L46.5 758.5 L46.5 758.5 L46.5 759.5 L46.5 760.5 L46.5 760.5 L46.5 761.5 L45.5 761.5 L42.5 761.5" stroke="#000" stroke-width="1" fill="none" stroke-linecap="square" stroke-linejoin="miter"/>
<path d="M46.5 708.5 L46.5 708.5 L45.5 707.5 L45.5 706.5 L43.5 706.5 L43.5 707.5 L42.5 708.5 L42.5 708.5 L41.5 709.5 L41.5 711.5 L42.5 712.5 L42.5 712.5 L43.5 713.5 L43.5 714.5 L45.5 714.5 L45.5 713.5 L46.5 712.5 L46.5 712.5" stroke="#000" stroke-width="1" fill="none" stroke-linecap="square" stroke-linejoin="miter"/>
<path d="M41.5 656.5 L41.5 662.5 M41.5 656.5 L43.5 662.5 M46.5 656.5 L43.5 662.5 M46.5 656.5 L46.5 662.5" stroke="#000" stroke-width="1" fill="none" stroke-linecap="square" stroke-linejoin="miter"/>
<path d="M42.5 604.5 L46.5 612.5 M46.5 604.5 L42.5 612.5" stroke="#000" stroke-width="1" fill="none" stroke-linecap="square" stroke-linejoin="miter"/>
<path d="M28.5 554.5 L33.5 560.5 M33.5 554.5 L28.5 560.5 M36.5 555.5 L37.5 554.5 L38.5 554.5 L38.5 560.5 M44.5 554.5 L43.5 554.5 L42.5 555.5 L42.5 556.5 L42.5 558.5 L42.5 559.5 L43.5 560.5 L44.5 560.5 L44.5 560.5 L45.5 560.5 L46.5 559.5 L46.5 558.5 L46.5 556.5 L46.5 555.5 L45.5 554.5 L44.5 554.5 L44.5 554.5" stroke="#000" stroke-width="1" fill="none" stroke-linecap="square" stroke-linejoin="miter"/>
<path d="M55.5 768.5 L54.5 768.5 L53.5 769.5 L53.5 771.5 L53.5 772.5 L53.5 774.5 L54.5 775.5 L55.5 775.5 L55.5 775.5 L56.5 775.5 L57.5 774.5 L57.5 772.5 L57.5 771.5 L57.5 769.5 L56.5 768.5 L55.5 768.5 L55.5 768.5 M63.5 768.5 L60.5 768.5 L60.5 771.5 L60.5 771.5 L61.5 770.5 L62.5 770.5 L63.5 771.5 L64.5 771.5 L64.5 772.5 L64.5 773.5 L64.5 774.5 L63.5 775.5 L62.5 775.5 L61.5 775.5 L60.5 775.5 L60.5 774.5 L59.5 774.5 M72.5 767.5 L66.5 777.5 M75.5 768.5 L74.5 768.5 L74.5 769.5 L73.5 771.5 L73.5 772.5 L74.5 774.5 L74.5 775.5 L75.5 775.5 L76.5 775.5 L77.5 775.5 L78.5 774.5 L78.5 772.5 L78.5 771.5 L78.5 769.5 L77.5 768.5 L76.5 768.5 L75.5 768.5 M82.5 768.5 L81.5 768.5 L80.5 769.5 L80.5 770.5 L81.5 770.5 L81.5 771.5 L83.5 771.5 L84.5 771.5 L84.5 772.5 L85.5 773.5 L85.5 774.5 L84.5 774.5 L84.5 775.5 L83.5 775.5 L82.5 775.5 L81.5 775.5 L80.5 774.5 L80.5 774.5 L80.5 773.5 L80.5 772.5 L81.5 771.5 L82.5 771.5 L83.5 771.5 L84.5 770.5 L84.5 770.5 L84.5 769.5 L84.5 768.5 L83.5 768.5 L82.5 768.5" stroke="#000" stroke-width="1" fill="none" stroke-linecap="square" stroke-linejoin="miter"/>
<path d="M155.5 768.5 L154.5 768.5 L153.5 769.5 L153.5 771.5 L153.5 772.5 L153.5 774.5 L154.5 775.5 L155.5 775.5 L155.5 775.5 L156.5 775.5 L157.5 774.5 L157.5 772.5 L157.5 771.5 L157.5 769.5 L156.5 768.5 L155.5 768.5 L155.5 768.5 M163.5 768.5 L160.5 768.5 L160.5 771.5 L160.5 771.5 L161.5 770.5 L162.5 770.5 L163.5 771.5 L164.5 771.5 L164.5 772.5 L164.5 773.5 L164.5 774.5 L163.5 775.5 L162.5 775.5 L161.5 775.5 L160.5 775.5 L160.5 774.5 L159.5 774.5 M172.5 767.5 L166.5 777.5 M174.5 769.5 L175.5 769.5 L176.5 768.5 L176.5 775.5 M181.5 769.5 L182.5 769.5 L183.5 768.5 L183.5 775.5" stroke="#000" stroke-width="1" fill="none" stroke-linecap="square" stroke-linejoin="miter"/>
<path d="M255.5 768.5 L254.5 768.5 L253.5 769.5 L253.5 771.5 L253.5 772.5 L253.5 774.5 L254.5 775.5 L255.5 775.5 L255.5 775.5 L256.5 775.5 L257.5 774.5 L257.5 772.5 L257.5 771.5 L257.5 769.5 L256.5 768.5 L255.5 768.5 L255.5 768.5 M263.5 768.5 L260.5 768.5 L260.5 771.5 L260.5 771.5 L261.5 770.5 L262.5 770.5 L263.5 771.5 L264.5 771.5 L264.5 772.5 L264.5 773.5 L264.5 774.5 L263.5 775.5 L262.5 775.5 L261.5 775.5 L260.5 775.5 L260.5 774.5 L259.5 774.5 M272.5 767.5 L266.5 777.5 M274.5 769.5 L275.5 769.5 L276.5 768.5 L276.5 775.5 M283.5 768.5 L280.5 773.5 L285.5 773.5 M283.5 768.5 L283.5 775.5" stroke="#000" stroke-width="1" fill="none" stroke-linecap="square" stroke-linejoin="miter"/>
<path d="M355.5 768.5 L354.5 768.5 L353.5 769.5 L353.5 771.5 L353.5 772.5 L353.5 774.5 L354.5 775.5 L355.5 775.5 L355.5 775.5 L356.5 775.5 L357.5 774.5 L357.5 772.5 L357.5 771.5 L357.5 769.5 L356.5 768.5 L355.5 768.5 L355.5 768.5 M363.5 768.5 L360.5 768.5 L360.5 771.5 L360.5 771.5 L361.5 770.5 L362.5 770.5 L363.5 771.5 L364.5 771.5 L364.5 772.5 L364.5 773.5 L364.5 774.5 L363.5 775.5 L362.5 775.5 L361.5 775.5 L360.5 775.5 L360.5 774.5 L359.5 774.5 M372.5 767.5 L366.5 777.5 M374.5 769.5 L375.5 769.5 L376.5 768.5 L376.5 775.5 M385.5 768.5 L381.5 775.5 M380.5 768.5 L385.5 768.5" stroke="#000" stroke-width="1" fill="none" stroke-linecap="square" stroke-linejoin="miter"/>
<path d="M455.5 768.5 L454.5 768.5 L453.5 769.5 L453.5 771.5 L453.5 772.5 L453.5 774.5 L454.5 775.5 L455.5 775.5 L455.5 775.5 L456.5 775.5 L457.5 774.5 L457.5 772.5 L457.5 771.5 L457.5 769.5 L456.5 768.5 L455.5 768.5 L455.5 768.5 M463.5 768.5 L460.5 768.5 L460.5 771.5 L460.5 771.5 L461.5 770.5 L462.5 770.5 L463.5 771.5 L464.5 771.5 L464.5 772.5 L464.5 773.5 L464.5 774.5 L463.5 775.5 L462.5 775.5 L461.5 775.5 L460.5 775.5 L460.5 774.5 L459.5 774.5 M472.5 767.5 L466.5 777.5 M474.5 770.5 L474.5 769.5 L474.5 769.5 L474.5 768.5 L475.5 768.5 L476.5 768.5 L477.5 768.5 L477.5 769.5 L478.5 769.5 L478.5 770.5 L477.5 771.5 L477.5 772.5 L473.5 775.5 L478.5 775.5 M482.5 768.5 L481.5 768.5 L480.5 769.5 L480.5 771.5 L480.5 772.5 L480.5 774.5 L481.5 775.5 L482.5 775.5 L483.5 775.5 L484.5 775.5 L484.5 774.5 L485.5 772.5 L485.5 771.5 L484.5 769.5 L484.5 768.5 L483.5 768.5 L482.5 768.5" stroke="#000" stroke-width="1" fill="none" stroke-linecap="square" stroke-linejoin="miter"/>
<path d="M13.5 690.5 L12.5 691.5 L11.5 691.5 L11.5 692.5 L11.5 693.5 L11.5 694.5 L12.5 695.5 L13.5 695.5 L14.5 695.5 L15.5 695.5 L16.5 695.5 L17.5 695.5 L18.5 694.5 L18.5 693.5 L18.5 692.5 L18.5 691.5 L17.5 691.5 L16.5 690.5 L15.5 690.5 M15.5 692.5 L15.5 690.5 M11.5 686.5 L11.5 687.5 L12.5 687.5 L13.5 688.5 L14.5 688.5 L15.5 688.5 L16.5 688.5 L17.5 687.5 L18.5 687.5 L18.5 686.5 L18.5 685.5 L18.5 684.5 L17.5 683.5 L16.5 683.5 L15.5 683.5 L14.5 683.5 L13.5 683.5 L12.5 683.5 L11.5 684.5 L11.5 685.5 L11.5 686.5 M11.5 680.5 L18.5 680.5 M11.5 680.5 L11.5 676.5 M14.5 680.5 L14.5 678.5 M18.5 680.5 L18.5 676.5 M12.5 669.5 L11.5 670.5 L11.5 671.5 L11.5 672.5 L11.5 674.5 L12.5 674.5 L13.5 674.5 L13.5 674.5 L14.5 674.5 L14.5 673.5 L15.5 671.5 L15.5 670.5 L15.5 670.5 L16.5 669.5 L17.5 669.5 L18.5 670.5 L18.5 671.5 L18.5 672.5 L18.5 674.5 L17.5 674.5 M11.5 662.5 L18.5 657.5 M11.5 657.5 L18.5 662.5 M15.5 655.5 L15.5 649.5 M13.5 646.5 L18.5 646.5 M15.5 646.5 L14.5 646.5 L14.5 645.5 L13.5 644.5 L13.5 643.5 M13.5 638.5 L18.5 638.5 M14.5 638.5 L14.5 638.5 L13.5 639.5 L13.5 640.5 L14.5 641.5 L14.5 642.5 L15.5 642.5 L16.5 642.5 L17.5 642.5 L18.5 641.5 L18.5 640.5 L18.5 639.5 L18.5 638.5 L17.5 638.5 M13.5 636.5 L18.5 634.5 M13.5 632.5 L18.5 634.5 L19.5 634.5 L20.5 635.5 L20.5 636.5 L20.5 636.5 M13.5 619.5 L12.5 620.5 L11.5 620.5 L11.5 621.5 L11.5 623.5 L11.5 623.5 L12.5 624.5 L13.5 624.5 L14.5 625.5 L15.5 625.5 L16.5 624.5 L17.5 624.5 L18.5 623.5 L18.5 623.5 L18.5 621.5 L18.5 620.5 L17.5 620.5 L16.5 619.5 M11.5 617.5 L18.5 617.5 M13.5 611.5 L18.5 611.5 M14.5 611.5 L14.5 611.5 L13.5 612.5 L13.5 613.5 L14.5 614.5 L14.5 614.5 L15.5 615.5 L16.5 615.5 L17.5 614.5 L18.5 614.5 L18.5 613.5 L18.5 612.5 L18.5 611.5 L17.5 611.5 M14.5 604.5 L14.5 605.5 L13.5 606.5 L13.5 607.5 L14.5 608.5 L14.5 608.5 L15.5 608.5 L15.5 607.5 L16.5 606.5 L16.5 605.5 L17.5 604.5 L17.5 604.5 L18.5 605.5 L18.5 606.5 L18.5 607.5 L18.5 608.5 L17.5 608.5 M14.5 599.5 L14.5 599.5 L13.5 600.5 L13.5 601.5 L14.5 602.5 L14.5 602.5 L15.5 602.5 L15.5 601.5 L16.5 600.5 L16.5 599.5 L17.5 599.5 L17.5 599.5 L18.5 599.5 L18.5 600.5 L18.5 601.5 L18.5 602.5 L17.5 602.5" stroke="#000" stroke-width="1" fill="none" stroke-linecap="square" stroke-linejoin="miter"/>
<path d="M481.5 783.5 L481.5 791.5 M481.5 783.5 L485.5 783.5 L486.5 784.5 L486.5 784.5 L486.5 785.5 L486.5 786.5 L486.5 786.5 L486.5 787.5 L485.5 787.5 L481.5 787.5 M489.5 786.5 L489.5 791.5 M489.5 788.5 L489.5 787.5 L490.5 786.5 L490.5 786.5 L492.5 786.5 M493.5 788.5 L497.5 788.5 L497.5 787.5 L497.5 786.5 L496.5 786.5 L496.5 786.5 L495.5 786.5 L494.5 786.5 L493.5 787.5 L493.5 788.5 L493.5 788.5 L493.5 790.5 L494.5 790.5 L495.5 791.5 L496.5 791.5 L496.5 790.5 L497.5 790.5 M500.5 786.5 L500.5 793.5 M500.5 787.5 L500.5 786.5 L501.5 786.5 L502.5 786.5 L503.5 786.5 L503.5 787.5 L504.5 788.5 L504.5 788.5 L503.5 790.5 L503.5 790.5 L502.5 791.5 L501.5 791.5 L500.5 790.5 L500.5 790.5 M510.5 786.5 L510.5 791.5 M510.5 787.5 L509.5 786.5 L509.5 786.5 L508.5 786.5 L507.5 786.5 L506.5 787.5 L506.5 788.5 L506.5 788.5 L506.5 790.5 L507.5 790.5 L508.5 791.5 L509.5 791.5 L509.5 790.5 L510.5 790.5 M513.5 786.5 L513.5 791.5 M513.5 788.5 L513.5 787.5 L514.5 786.5 L515.5 786.5 L516.5 786.5 M517.5 788.5 L521.5 788.5 L521.5 787.5 L521.5 786.5 L521.5 786.5 L520.5 786.5 L519.5 786.5 L518.5 786.5 L517.5 787.5 L517.5 788.5 L517.5 788.5 L517.5 790.5 L518.5 790.5 L519.5 791.5 L520.5 791.5 L521.5 790.5 L521.5 790.5 M528.5 783.5 L528.5 791.5 M528.5 787.5 L527.5 786.5 L526.5 786.5 L525.5 786.5 L524.5 786.5 L524.5 787.5 L523.5 788.5 L523.5 788.5 L524.5 790.5 L524.5 790.5 L525.5 791.5 L526.5 791.5 L527.5 790.5 L528.5 790.5 M536.5 783.5 L536.5 791.5 M536.5 787.5 L537.5 786.5 L537.5 786.5 L538.5 786.5 L539.5 786.5 L540.5 787.5 L540.5 788.5 L540.5 788.5 L540.5 790.5 L539.5 790.5 L538.5 791.5 L537.5 791.5 L537.5 790.5 L536.5 790.5 M542.5 786.5 L544.5 791.5 M546.5 786.5 L544.5 791.5 L543.5 792.5 L543.5 793.5 L542.5 793.5 L542.5 793.5 M554.5 783.5 L554.5 791.5 M559.5 783.5 L559.5 791.5 M554.5 787.5 L559.5 787.5 M562.5 783.5 L562.5 791.5 M562.5 783.5 L566.5 783.5 M562.5 787.5 L564.5 787.5 M562.5 791.5 L566.5 791.5 M568.5 783.5 L568.5 791.5 M568.5 791.5 L572.5 791.5 M574.5 783.5 L574.5 791.5 M579.5 783.5 L578.5 784.5 L577.5 784.5 L577.5 785.5 L577.5 786.5 L577.5 788.5 L577.5 789.5 L577.5 790.5 L578.5 790.5 L579.5 791.5 L580.5 791.5 L581.5 790.5 L582.5 790.5 L582.5 789.5 L582.5 788.5 L582.5 786.5 L582.5 785.5 L582.5 784.5 L581.5 784.5 L580.5 783.5 L579.5 783.5" stroke="#000" stroke-width="1" fill="none" stroke-linecap="square" stroke-linejoin="miter"/>
<path d="M51.5 716.32 L52 714.61 L52.5 713.59 L52.8 714.37 L53 714.42 L53.5 717.69 L54 722.07 L54.5 721.02 L55 721.32 L55.5 722.41 L56 722.08 L56.5 718.76 L57 721.29 L57.5 711.88 L58 710.01 L58.5 703.01 L58.6 701.37 L59 709.75 L59.5 722.21 L60 723.36 L60.5 722.48 L61 723.21 L61.5 724.58 L62 723.11 L62.5 724.29 L63 724.73 L63.5 721.82 L64 719.28 L64.5 716.37 L65 716.04 L65.5 714.54 L66 711.73 L66.5 708.4 L67 706.8 L67.4 704.46 L67.5 707.59 L68 716.42 L68.2 720.06 L68.5 721.61 L69 723.31 L69.5 722.28 L70 702.13 L70.4 686.02 L70.5 688.91 L71 709.09 L71.2 718.13 L71.5 717.36 L72 716 L72.5 717.21 L73 716.82 L73.5 714.2 L74 709.31 L74.3 707.88 L74.5 709.7 L75 715.2 L75.2 718.48 L75.5 718.65 L76 716.57 L76.5 717.52 L77 719.17 L77.5 717.52 L78 712.38 L78.5 706.05 L79 712.78 L79.5 716.87 L80 718.31 L80.5 714.35 L81 715.84 L81.5 718.85 L82 717.75 L82.5 720.37 L83 722.03 L83.5 724.37 L84 722.72 L84.5 724.03 L85 723.99 L85.5 727.44 L86 725.08 L86.5 726.71 L87 727.84 L87.5 730 L88 728.1 L88.2 729.03 L88.5 729.05 L89 729.23 L89.5 726.41 L90 725.22 L90.5 725.5 L91 724.33 L91.5 721.03 L92 720.89 L92.5 717.73 L93 714.93 L93.5 711.64 L94 708.53 L94.5 709.24 L95 712.26 L95.5 710.81 L96 707.72 L96.3 706.99 L96.5 709.62 L97 711.44 L97.5 716.2 L98 716.8 L98.5 720.27 L99 720.16 L99.5 718.79 L100 724.03 L100.5 724.76 L101 724.88 L101.5 725.68 L102 725.26 L102.5 723.52 L103 724.83 L103.5 720.29 L104 722.9 L104.5 715.51 L105 716.7 L105.5 711.35 L106 712.6 L106.5 715.97 L107 712.05 L107.5 709.03 L107.9 704.87 L108 706.27 L108.5 708.07 L109 712.24 L109.5 703.4 L110 688.85 L110.5 683.91 L110.6 682.58 L111 700.94 L111.3 712.92 L111.5 710.51 L112 705.52 L112.5 710.46 L113 718.18 L113.5 718.77 L114 721.17 L114.5 724.8 L114.8 725.03 L115 725.01 L115.5 722.01 L116 722.92 L116.5 723.98 L117 722.56 L117.5 720.47 L118 716.6 L118.5 713.95 L118.75 712.69 L119 713.55 L119.5 716.03 L120 718.7 L120.5 716.2 L121 711.26 L121.5 713.36 L122 714.43 L122.5 716.44 L123 714.73 L123.5 714.33 L124 716.21 L124.5 713.79 L125 714.66 L125.5 709.9 L126 709.07 L126.3 705.95 L126.5 700.03 L127 687.99 L127.5 693.96 L127.8 700.52 L128 697.99 L128.5 692.92 L128.7 691.02 L129 695.13 L129.5 699.19 L130 706.62 L130.5 699.6 L131 703.42 L131.5 700.1 L132 690.63 L132.5 687.08 L132.6 689.91 L133 695.41 L133.5 700.15 L134 696.84 L134.5 690.7 L135 664.72 L135.2 661.43 L135.5 668.83 L136 685.13 L136.2 690.08 L136.5 672.88 L137 652.2 L137.5 628.55 L138 644.31 L138.4 654.13 L138.5 658.59 L139 676.05 L139.3 690.2 L139.5 688.7 L140 687.13 L140.3 684.5 L140.5 686.14 L141 692.29 L141.5 700.02 L142 699.43 L142.5 695.87 L142.6 696.93 L143 698.67 L143.5 704.01 L144 709.59 L144.5 712.83 L145 717.58 L145.5 715.95 L146 716.46 L146.5 714.85 L147 714.05 L147.5 707.1 L148 707.88 L148.5 708.84 L149 705.67 L149.5 707.14 L150 709.5 L150.5 712.16 L151 712.33 L151.5 713.98 L152 712.65 L152.5 712.97 L153 698.14 L153.3 690 L153.5 681.68 L154 660.95 L154.2 652.5 L154.5 668.92 L155 700.09 L155.5 706.59 L155.8 712.3 L156 705.07 L156.5 689.53 L157 706.55 L157.3 715.72 L157.5 717.86 L158 719.33 L158.5 708.63 L159 698.56 L159.5 695.17 L159.7 690.73 L160 698.15 L160.5 716.5 L161 718.14 L161.5 718.69 L162 719.47 L162.5 719.4 L163 715.41 L163.5 718.66 L164 720.56 L164.5 720.51 L165 720.28 L165.5 717.71 L166 719.69 L166.5 718.54 L167 702.84 L167.4 696.25 L167.5 697.58 L168 711.9 L168.3 718.74 L168.5 720.24 L169 718.9 L169.5 720.42 L170 720.76 L170.5 717.58 L171 721.74 L171.5 719.72 L172 715.56 L172.3 718.67 L172.5 715.4 L173 705.29 L173.5 713.68 L173.8 718.47 L174 717.28 L174.5 717.54 L175 717.06 L175.5 719.52 L176 718.34 L176.5 717.57 L177 718.21 L177.5 715 L178 714.33 L178.5 716.53 L179 716.48 L179.5 716.44 L180 714.02 L180.5 712.66 L181 713.84 L181.5 712.6 L182 712.91 L182.5 711.66 L183 709.38 L183.5 713.43 L184 712.29 L184.5 711.09 L185 712.1 L185.5 709.05 L186 706.37 L186.5 708.57 L187 706.94 L187.5 698.7 L188 692.51 L188.5 691.76 L189 694.46 L189.4 693.51 L189.5 695.1 L190 703.48 L190.3 706.72 L190.5 705.29 L191 707.17 L191.5 708.37 L192 708.05 L192.5 701.35 L192.8 699.34 L193 701.3 L193.5 709.58 L193.7 710.66 L194 709.29 L194.5 706.99 L195 707.09 L195.5 707.06 L195.8 706.91 L196 697.8 L196.5 670.14 L197 663.19 L197.5 679.07 L197.8 690.09 L198 692.47 L198.5 700.52 L198.8 704.75 L199 703.42 L199.5 701.78 L199.8 700.34 L200 700.77 L200.5 704.82 L201 710.63 L201.5 711.91 L202 710.27 L202.5 710.93 L203 712.95 L203.5 711.81 L204 712.67 L204.5 712.16 L205 712 L205.5 711.58 L206 712.4 L206.5 712.3 L207 705.87 L207.5 710.23 L208 709.78 L208.5 708.76 L209 700.36 L209.5 692.04 L210 702.4 L210.5 710.92 L211 710.63 L211.5 708.64 L212 709.94 L212.5 704.83 L213 709.1 L213.5 708.22 L214 702 L214.5 699.14 L214.8 696.64 L215 699.39 L215.5 701.48 L216 706.96 L216.5 704.38 L217 699.41 L217.5 698.72 L217.8 696.26 L218 699.04 L218.5 700.27 L219 708.42 L219.5 709.58 L220 710.45 L220.5 710.02 L221 712 L221.5 712.02 L222 711.22 L222.5 711.58 L223 711.45 L223.5 708.25 L224 708.42 L224.5 701.53 L225 693.15 L225.5 701.66 L226 710.97 L226.5 708.45 L227 710.83 L227.5 712.73 L228 713.43 L228.5 711.62 L229 712.94 L229.5 705.63 L230 704.11 L230.5 700.33 L231 669.32 L231.5 644.35 L232 664.1 L232.5 690.21 L233 695.04 L233.5 700.82 L234 676.89 L234.5 659.37 L235 678.84 L235.5 695.36 L236 691.63 L236.5 690.81 L237 675.21 L237.5 660.06 L238 666.84 L238.5 670.75 L239 637.68 L239.5 601.59 L239.6 595.62 L240 614.74 L240.5 640.32 L241 640.76 L241.4 649.92 L241.5 652.26 L242 661.98 L242.3 670.48 L242.5 672.93 L243 673.52 L243.5 676.07 L243.75 677.93 L244 680.09 L244.5 689.06 L245 695.77 L245.5 697.09 L246 697.42 L246.5 698.36 L247 700.75 L247.5 689.98 L248 683.53 L248.4 676.98 L248.5 679.91 L249 687.45 L249.5 700.5 L250 701.84 L250.5 700.98 L251 702.62 L251.5 689.17 L252 675.83 L252.5 659.62 L252.8 652.29 L253 660.31 L253.5 679.86 L253.8 690.25 L254 686.82 L254.5 696.58 L255 700.4 L255.5 688.38 L256 672.83 L256.5 685.29 L257 695.99 L257.5 666.73 L258 640.82 L258.5 594.92 L258.6 584.04 L259 591.9 L259.5 608.1 L259.7 611.93 L260 625.72 L260.5 650.45 L261 660 L261.5 669.09 L261.6 673.22 L262 674.66 L262.5 677.5 L262.8 680.25 L263 682.65 L263.5 683.66 L264 691.68 L264.5 692.99 L265 696.2 L265.5 680.94 L266 663.06 L266.5 679.1 L266.8 690.55 L267 683.54 L267.5 671 L267.6 667.28 L268 679.77 L268.5 696.31 L269 685.05 L269.5 672.9 L269.7 669 L270 668.81 L270.5 670.73 L271 620.95 L271.5 582.42 L272 604.53 L272.5 624.88 L273 637.76 L273.4 650.55 L273.5 652.68 L274 659.58 L274.3 665.97 L274.5 666.19 L275 673.9 L275.5 678.1 L276 685.85 L276.5 684.65 L276.6 691.98 L277 689.41 L277.5 697.14 L278 701.22 L278.5 703.08 L279 707.22 L279.5 708.77 L280 711.7 L280.5 711.32 L281 713.85 L281.5 714.16 L282 717.66 L282.4 717.74 L282.5 718.41 L283 716.78 L283.5 717.08 L284 718.52 L284.5 717.78 L285 718.72 L285.5 718.66 L286 704.83 L286.3 696.42 L286.5 701.64 L287 711.3 L287.2 716.78 L287.5 716.26 L288 714.61 L288.5 713.05 L289 712.34 L289.5 714.34 L290 715.78 L290.5 709.29 L291 708.64 L291.5 704.63 L291.7 705 L292 706.63 L292.5 707.21 L293 710.49 L293.5 709.96 L294 705.43 L294.5 704.93 L295 698.84 L295.5 692.19 L295.6 694.87 L296 696.9 L296.5 704.99 L296.8 706.26 L297 705.19 L297.5 700.35 L298 698.16 L298.5 703.23 L299 702.29 L299.5 708.12 L300 693.1 L300.5 677.36 L301 695.57 L301.3 704.58 L301.5 702.35 L302 710.23 L302.5 706.56 L303 702.95 L303.5 700.58 L304 680.33 L304.4 664.94 L304.5 664.88 L305 670.05 L305.5 614.86 L305.6 602.64 L306 623.05 L306.4 640.66 L306.5 640.52 L307 649.88 L307.2 654.43 L307.5 659.21 L308 665.77 L308.5 674.2 L309 682.35 L309.5 684.94 L310 689.01 L310.5 693.87 L311 697.68 L311.3 699.13 L311.5 701.49 L312 696.88 L312.5 704.22 L313 704.4 L313.5 701 L314 706.37 L314.5 707.47 L314.8 707.94 L315 707.37 L315.5 702.6 L316 701.95 L316.4 700.06 L316.5 699.1 L317 705.57 L317.5 710.61 L318 712.26 L318.5 714.98 L319 715.1 L319.4 716.65 L319.5 716.88 L320 704.61 L320.5 701.75 L320.6 699.74 L321 705.13 L321.5 712.11 L322 710.3 L322.5 715.3 L323 716.61 L323.5 716.27 L324 713.73 L324.5 711.54 L325 706.93 L325.2 706.97 L325.5 707.9 L326 711.1 L326.5 716.24 L327 718.42 L327.5 719.56 L328 721.13 L328.5 720.21 L328.7 721.63 L329 721.28 L329.5 720.81 L330 718.98 L330.5 716.86 L331 713.8 L331.5 711.73 L332 708.71 L332.5 707.5 L333 714.14 L333.5 705.52 L334 708.84 L334.5 709.19 L335 714.62 L335.5 716.7 L336 712.65 L336.5 713.56 L337 713.77 L337.5 711.07 L338 715.01 L338.5 715.77 L339 718.11 L339.5 717.94 L340 721.36 L340.5 722.33 L341 720.15 L341.5 723.98 L342 723.5 L342.5 723.48 L342.6 724.98 L343 725.44 L343.5 723.61 L344 723.64 L344.5 720.79 L345 722.44 L345.5 722.2 L346 720.8 L346.5 718.06 L347 716.48 L347.5 713.75 L348 716.28 L348.4 714 L348.5 714.66 L349 716.59 L349.5 716.58 L350 718.61 L350.5 718.94 L351 717.31 L351.5 718.14 L352 715.75 L352.5 716.08 L353 711.67 L353.5 705.29 L354 711.16 L354.5 716.4 L355 716.16 L355.5 715.18 L356 714.98 L356.5 715.74 L357 716.5 L357.5 716.88 L358 712.76 L358.5 710.83 L358.8 709.25 L359 710.38 L359.5 707.28 L360 714.66 L360.5 710.02 L361 710.37 L361.5 705.8 L361.6 706.89 L362 708.33 L362.5 712.3 L363 692.59 L363.4 675.15 L363.5 678.51 L364 699.61 L364.3 712.16 L364.5 709.55 L365 705.62 L365.3 700.1 L365.5 689 L366 665.49 L366.2 653.73 L366.5 667.17 L367 690.64 L367.5 681.49 L367.6 681.09 L368 692.23 L368.5 710.3 L368.6 712.5 L369 713.59 L369.5 712.85 L370 714.53 L370.5 716.97 L371 716.57 L371.5 716.8 L372 714.63 L372.5 716.22 L373 714.7 L373.5 716.63 L374 716.95 L374.5 716.9 L375 718.1 L375.5 700.42 L376 682.65 L376.2 674.38 L376.5 683.29 L377 700.46 L377.5 704.64 L377.8 706.68 L378 708.88 L378.5 710.49 L379 712.39 L379.5 708.47 L380 703.02 L380.5 700.16 L381 658.54 L381.2 640.52 L381.5 634.9 L381.7 633.34 L382 637.6 L382.3 640.64 L382.5 648.12 L383 663.41 L383.5 672.52 L384 679.27 L384.5 682.17 L384.7 689.16 L385 689.99 L385.5 691.94 L386 698.2 L386.5 701.51 L387 705.22 L387.5 708.69 L388 710.42 L388.5 713.71 L389 710.14 L389.4 717.41 L389.5 717.37 L390 716.36 L390.5 716.86 L391 715.04 L391.5 714.82 L391.7 713.29 L392 709.97 L392.5 714.77 L393 715.58 L393.5 716.62 L394 718.19 L394.5 717.24 L395 718.47 L395.5 718.87 L396 719.6 L396.5 720.68 L397 720.93 L397.5 718.05 L398 723.25 L398.5 721.52 L399 722.78 L399.5 725.57 L400 722.48 L400.5 724.72 L401 726.15 L401.5 724.03 L402 720.35 L402.5 723.17 L403 722.2 L403.5 720.79 L404 719.11 L404.5 716.16 L405 713.85 L405.5 711.82 L405.6 709.86 L406 707.08 L406.5 710.49 L406.8 712.14 L407 701.04 L407.5 672.54 L407.9 670.86 L408 670.35 L408.5 678.97 L408.6 680.67 L409 694.03 L409.5 708.42 L410 705.06 L410.5 702.77 L410.6 705.68 L411 709.99 L411.5 712.98 L412 708.53 L412.5 704.9 L413 708.01 L413.5 714.63 L414 716.34 L414.5 718.79 L415 721.66 L415.5 723.01 L416 726.22 L416.5 725 L417 722.69 L417.5 721.57 L418 719.68 L418.5 720.46 L418.75 718.49 L419 718.92 L419.5 721.34 L420 724.63 L420.5 722.03 L421 726.76 L421.5 724.6 L421.75 725.81 L422 725.11 L422.5 726.05 L423 726.22 L423.5 725.26 L424 724.63 L424.5 721.6 L425 718.02 L425.5 714.45 L425.7 712.76 L426 712.61 L426.5 714.71 L427 718.91 L427.5 715.47 L428 712.47 L428.5 708.11 L428.7 706.3 L429 708.98 L429.5 713.55 L429.8 716.93 L430 712.24 L430.5 700.87 L431 699.58 L431.5 703.96 L431.8 704.01 L432 700.74 L432.5 694 L432.6 690.88 L433 693.98 L433.5 706.21 L434 706.17 L434.5 710.28 L435 710.17 L435.5 711.34 L436 708.88 L436.5 714.4 L437 716.19 L437.5 714.77 L438 716.61 L438.5 712.86 L439 716.03 L439.5 716.45 L440 716.27 L440.5 714.01 L441 705.17 L441.4 700.82 L441.5 700.93 L442 707.46 L442.3 716.49 L442.5 715.56 L443 718.39 L443.5 715.7 L444 720.06 L444.5 722.09 L445 722.48 L445.5 725.45 L446 725.27 L446.5 717.46 L447 721.5 L447.5 718.14 L448 716.98 L448.5 700.49 L449 682.16 L449.5 697.25 L449.6 700.38 L450 706.52 L450.5 713.98 L451 719.28 L451.5 714.2 L452 711.84 L452.5 709.4 L453 703.22 L453.2 703.51 L453.5 706.98 L454 709.43 L454.5 714.81 L455 711.59 L455.5 703.8 L456 704.95 L456.5 700.75 L457 684.66 L457.4 669.61 L457.5 673.51 L458 689.23 L458.3 700.75 L458.5 696.82 L459 683.03 L459.5 673.68 L459.6 670.58 L460 666.47 L460.4 659.92 L460.5 660.9 L461 665.36 L461.2 668.18 L461.5 675.54 L462 685.77 L462.5 695.11 L462.7 701 L463 695.9 L463.5 696.25 L464 697.11 L464.5 696.02 L465 684.51 L465.5 675.87 L466 685.96 L466.5 696.26 L467 702.39 L467.4 705.95 L467.5 706.12 L468 705.55 L468.5 701.4 L469 699.46 L469.5 700.56 L470 690.3 L470.4 680.45 L470.5 680.64 L471 691.17 L471.3 704.26 L471.5 706.47 L472 712.14 L472.5 714.75 L473 719.16 L473.5 718.66 L474 711.92 L474.5 712.35 L475 707.79 L475.5 700.84 L476 677.05 L476.5 656.71 L477 647.35 L477.5 652.99 L477.8 656.75 L478 664.91 L478.5 680.36 L478.6 684.76 L479 680.24 L479.4 678.26 L479.5 678.67 L480 685.69 L480.5 692.48 L481 700.01 L481.5 701.2 L482 699.02 L482.5 700.22 L483 697.34 L483.5 689.86 L483.6 690.1 L484 695.51 L484.5 699.09 L484.7 700.34 L485 702.16 L485.5 700.69 L486 702.76 L486.5 706.71 L487 707.71 L487.5 710.93 L488 714.16 L488.5 709.1 L489 701.67 L489.5 700.32 L490 676.58 L490.5 659.46 L491 678.16 L491.4 690.21 L491.5 688.43 L492 677.72 L492.4 670.36 L492.5 677.07 L493 699.7 L493.2 710.9 L493.5 712.46 L494 719.29 L494.5 715.05 L495 714.48 L495.5 715.31 L496 712.19 L496.5 708.29 L497 703.6 L497.5 700.14 L498 704.93 L498.5 712.09 L498.6 712.08 L499 707.85 L499.5 704.99 L499.8 702.21 L500 704.86 L500.5 710.5 L501 714.2 L501.5 712.55 L502 713.09 L502.5 711.41 L502.8 712.34 L503 711.26 L503.5 699.67 L503.7 701.98 L504 708.02 L504.5 713.88 L504.6 716.37 L505 717.82 L505.5 719.12 L505.6 722.45 L506 718.46 L506.5 722.98 L507 721.1 L507.5 721 L508 719.68 L508.5 722.25 L509 720.51 L509.5 719.93 L510 717.63 L510.5 717.62 L511 716.56 L511.5 716.8 L512 716.7 L512.5 707.13 L513 706.58 L513.5 711.57 L514 716.1 L514.5 717.68 L515 712.07 L515.5 716.5 L516 715.29 L516.5 716.14 L517 711.79 L517.5 705.37 L517.6 705.75 L518 709.63 L518.5 718.6 L518.6 718.42 L519 720.25 L519.5 719.67 L520 721.72 L520.5 720.84 L521 722.44 L521.5 724.49 L522 724.72 L522.5 721.89 L523 725.77 L523.5 723.95 L524 725.33 L524.5 724.23 L525 722.74 L525.5 722.04 L526 724.54 L526.5 722.94 L527 716.18 L527.5 709.38 L528 713.96 L528.5 722.83 L528.7 726.27 L529 725.59 L529.5 724.11 L530 722.04 L530.5 721.68 L531 718.31 L531.5 713.99 L532 716.76 L532.5 712.96 L533 710.71 L533.5 710.13 L534 697.34 L534.5 685.29 L535 694.99 L535.5 712.84 L536 710.35 L536.5 707.98 L536.7 706.71 L537 701.12 L537.5 692.61 L538 702.4 L538.5 712.24 L539 705.81 L539.5 700.53 L540 694.61 L540.5 704.33 L541 714.24 L541.5 716.24 L542 716.94 L542.5 718.53 L542.6 719.16 L543 717.61 L543.5 715.63 L544 717.56 L544.5 715.87 L545 716.96 L545.5 713.32 L546 712.83 L546.5 712.07 L547 710.42 L547.5 706.96 L548 704.48 L548.5 700.48 L549 697.41 L549.5 692.91 L550 691.64 L550.5 691.58 L551 693.59 L551.5 695.99 L552 698.57 L552.5 700.59 L553 703.57 L553.5 702.19 L554 700.45" stroke="#ff0000" stroke-width="1" fill="none" stroke-linejoin="bevel"/>
<clipPath id="c3"><rect x="51" y="532" width="505" height="230"/></clipPath>
<path clip-path="url(#c3)" d="M51 765.5 L70.1 765.5 L70.4 735.5 L70.56 743.3 L70.71 751.4 L70.96 758 L71.18 761.6 L71.4 765.5 L110.3 765.5 L110.6 731.5 L110.76 740.34 L110.91 749.52 L111.16 757 L111.38 761.08 L111.6 765.5 L126.7 765.5 L127 747.5 L127.12 752.18 L127.25 757.04 L127.45 761 L127.62 763.16 L127.8 765.5 L132.3 765.5 L132.6 749 L132.72 753.29 L132.85 757.75 L133.05 761.38 L133.22 763.36 L133.4 765.5 L134.2 765.5 L134.5 729.5 L134.62 738.86 L134.75 748.58 L134.95 756.5 L135.12 760.82 L135.3 765.5 L135.7 765.5 L136 696.5 L136.12 714.44 L136.25 733.07 L136.45 748.25 L136.62 756.53 L136.8 765.5 L137 765.5 L137.5 659.5 L138.44 687.06 L139.36 715.68 L140.86 739 L142.18 751.72 L143.5 765.5 L149.2 765.5 L149.5 751.5 L149.62 755.14 L149.75 758.92 L149.95 762 L150.12 763.68 L150.3 765.5 L153.7 765.5 L154.2 696.5 L154.51 714.44 L154.82 733.07 L155.32 748.25 L155.76 756.53 L156.2 765.5 L156.2 765.5 L156.5 736.5 L156.66 744.04 L156.81 751.87 L157.06 758.25 L157.28 761.73 L157.5 765.5 L158.7 765.5 L159 750.5 L159.16 754.4 L159.31 758.45 L159.56 761.75 L159.78 763.55 L160 765.5 L167.1 765.5 L167.4 749.5 L167.52 753.66 L167.65 757.98 L167.85 761.5 L168.02 763.42 L168.2 765.5 L188.2 765.5 L188.7 753.5 L188.93 756.62 L189.16 759.86 L189.54 762.5 L189.87 763.94 L190.2 765.5 L196.5 765.5 L197 707.5 L197.31 722.58 L197.62 738.24 L198.12 751 L198.56 757.96 L199 765.5 L209.2 765.5 L209.5 751.5 L209.62 755.14 L209.75 758.92 L209.95 762 L210.12 763.68 L210.3 765.5 L224.7 765.5 L225 754.5 L225.12 757.36 L225.25 760.33 L225.45 762.75 L225.62 764.07 L225.8 765.5 L231 765.5 L231.4 672.5 L231.87 696.68 L232.33 721.79 L233.08 742.25 L233.74 753.41 L234.4 765.5 L234.1 765.5 L234.5 687.5 L234.89 707.78 L235.28 728.84 L235.9 746 L236.45 755.36 L237 765.5 L237.2 765.5 L237.5 716.5 L237.73 729.24 L237.97 742.47 L238.34 753.25 L238.67 759.13 L239 765.5 L238.75 765.5 L239.25 620.5 L240.11 658.2 L240.96 697.35 L242.33 729.25 L243.54 746.65 L244.75 765.5 L246.5 765.5 L247.5 742.5 L247.73 748.48 L247.97 754.69 L248.34 759.75 L248.67 762.51 L249 765.5 L248.5 765.5 L249 728.5 L249.23 738.12 L249.47 748.11 L249.84 756.25 L250.17 760.69 L250.5 765.5 L250.4 765.5 L250.7 751.5 L250.82 755.14 L250.95 758.92 L251.15 762 L251.32 763.68 L251.5 765.5 L252.1 765.5 L252.5 682.5 L252.81 704.08 L253.12 726.49 L253.62 744.75 L254.06 754.71 L254.5 765.5 L254.3 765.5 L254.6 730.5 L254.76 739.6 L254.91 749.05 L255.16 756.75 L255.38 760.95 L255.6 765.5 L255.6 765.5 L256 714.5 L256.23 727.76 L256.46 741.53 L256.84 752.75 L257.17 758.87 L257.5 765.5 L257.75 765.5 L258.25 606.5 L259.42 647.84 L260.57 690.77 L262.45 725.75 L264.1 744.83 L265.75 765.5 L266.2 765.5 L266.6 702.5 L266.83 718.88 L267.06 735.89 L267.44 749.75 L267.77 757.31 L268.1 765.5 L267.5 765.5 L267.8 717.5 L267.99 729.98 L268.17 742.94 L268.47 753.5 L268.74 759.26 L269 765.5 L268.9 765.5 L269.2 719.5 L269.36 731.46 L269.51 743.88 L269.76 754 L269.98 759.52 L270.2 765.5 L270.8 765.5 L271.3 606.5 L272.16 647.84 L273 690.77 L274.38 725.75 L275.59 744.83 L276.8 765.5 L286 765.5 L286.3 753.5 L286.42 756.62 L286.55 759.86 L286.75 762.5 L286.92 763.94 L287.1 765.5 L295 765.5 L295.3 755.5 L295.42 758.1 L295.55 760.8 L295.75 763 L295.92 764.2 L296.1 765.5 L300.2 765.5 L300.5 715.5 L300.66 728.5 L300.81 742 L301.06 753 L301.28 759 L301.5 765.5 L303.9 765.5 L304.2 705.5 L304.32 721.1 L304.45 737.3 L304.65 750.5 L304.82 757.7 L305 765.5 L304.9 765.5 L305.4 632.5 L306.15 667.08 L306.89 702.99 L308.09 732.25 L309.14 748.21 L310.2 765.5 L363 765.5 L363.4 715.5 L363.59 728.5 L363.77 742 L364.07 753 L364.34 759 L364.6 765.5 L365.8 765.5 L366.2 691.5 L366.48 710.74 L366.76 730.72 L367.21 747 L367.6 755.88 L368 765.5 L374.7 765.5 L375 740.5 L375.12 747 L375.25 753.75 L375.45 759.25 L375.62 762.25 L375.8 765.5 L375.8 765.5 L376.2 714.5 L376.43 727.76 L376.66 741.53 L377.04 752.75 L377.37 758.87 L377.7 765.5 L381.1 765.5 L381.7 670.5 L382.25 695.2 L382.78 720.85 L383.66 741.75 L384.43 753.15 L385.2 765.5 L407.4 765.5 L407.9 717.1 L408.13 729.68 L408.36 742.75 L408.74 753.4 L409.07 759.21 L409.4 765.5 L430.7 765.5 L431.5 742.5 L431.66 748.48 L431.81 754.69 L432.06 759.75 L432.28 762.51 L432.5 765.5 L441.1 765.5 L441.4 759.5 L441.49 761.06 L441.59 762.68 L441.74 764 L441.87 764.72 L442 765.5 L448.5 765.5 L449 728.5 L449.23 738.12 L449.46 748.11 L449.84 756.25 L450.17 760.69 L450.5 765.5 L457 765.5 L457.4 710.1 L457.63 724.5 L457.86 739.46 L458.24 751.65 L458.57 758.3 L458.9 765.5 L459.9 765.5 L460.4 706.5 L460.71 721.84 L461.02 737.77 L461.52 750.75 L461.96 757.83 L462.4 765.5 L465.2 765.5 L465.5 725.5 L465.66 735.9 L465.81 746.7 L466.06 755.5 L466.28 760.3 L466.5 765.5 L470.1 765.5 L470.4 732.1 L470.56 740.78 L470.71 749.8 L470.96 757.15 L471.18 761.16 L471.4 765.5 L476.3 765.5 L477 688.1 L477.39 708.22 L477.77 729.12 L478.4 746.15 L478.95 755.44 L479.5 765.5 L489.1 765.5 L489.4 736.5 L489.52 744.04 L489.65 751.87 L489.85 758.25 L490.02 761.73 L490.2 765.5 L490.2 765.5 L490.6 696.2 L490.83 714.22 L491.06 732.93 L491.44 748.17 L491.77 756.49 L492.1 765.5 L492.2 765.5 L492.5 713.5 L492.69 727.02 L492.87 741.06 L493.17 752.5 L493.44 758.74 L493.7 765.5 L534.2 765.5 L534.5 732.5 L534.66 741.08 L534.81 749.99 L535.06 757.25 L535.28 761.21 L535.5 765.5 L537.2 765.5 L537.5 740.5 L537.66 747 L537.81 753.75 L538.06 759.25 L538.28 762.25 L538.5 765.5 L558 765.5" stroke="#0000ff" stroke-width="1" fill="none" stroke-linejoin="bevel"/>
<rect x="554" y="634" width="1" height="69" fill="#ff0000"/>
<rect x="554" y="623" width="2" height="12" fill="#ff0000"/>
<rect x="553" y="728" width="1" height="34" fill="#0000ff"/>
<rect x="554" y="690" width="1" height="39" fill="#0000ff"/>
<rect x="554" y="668" width="2" height="23" fill="#0000ff"/>
<g>
<text x="47.4" y="44" font-size="10" text-anchor="end" xml:space="preserve">400</text>
<text x="47.4" y="89" font-size="10" text-anchor="end" xml:space="preserve">300</text>
<text x="47.4" y="136" font-size="10" text-anchor="end" xml:space="preserve">200</text>
<text x="47.4" y="184" font-size="10" text-anchor="end" xml:space="preserve">100</text>
<text x="47.4" y="227" font-size="10" text-anchor="end" xml:space="preserve">0</text>
<text x="83.7" y="33" font-size="10" text-anchor="middle" xml:space="preserve">-90</text>
<text x="156.53" y="33" font-size="10" text-anchor="middle" xml:space="preserve">-60</text>
<text x="229.37" y="33" font-size="10" text-anchor="middle" xml:space="preserve">-30</text>
<text x="303.5" y="33" font-size="10" text-anchor="middle" xml:space="preserve">0</text>
<text x="376.34" y="33" font-size="10" text-anchor="middle" xml:space="preserve">30</text>
<text x="449.17" y="33" font-size="10" text-anchor="middle" xml:space="preserve">60</text>
<text x="522" y="33" font-size="10" text-anchor="middle" xml:space="preserve">90</text>
<text x="303.2" y="23.5" font-size="10.08" text-anchor="middle" xml:space="preserve">NAR Longitude</text>
<text x="18" y="133" font-size="10.2" text-anchor="middle" transform="rotate(-90 18 133)" xml:space="preserve">NAR Area</text>
<text x="100.3" y="56.5" font-size="19.23" text-anchor="start" xml:space="preserve">NAR 11750</text>
<text x="464.3" y="20.5" font-size="14.4" text-anchor="start" xml:space="preserve">Lat:</text>
<text x="507" y="20.5" font-size="14.55" text-anchor="start" xml:space="preserve">-9.67</text>
<text x="68.7" y="242" font-size="10" text-anchor="middle" xml:space="preserve">05/08</text>
<text x="168.7" y="242" font-size="10" text-anchor="middle" xml:space="preserve">05/11</text>
<text x="268.7" y="242" font-size="10" text-anchor="middle" xml:space="preserve">05/14</text>
<text x="368.7" y="242" font-size="10" text-anchor="middle" xml:space="preserve">05/17</text>
<text x="468.7" y="242" font-size="10" text-anchor="middle" xml:space="preserve">05/20</text>
<text x="202" y="256.5" font-size="11.34" text-anchor="start" xml:space="preserve">Start Time: (2013/05/07 11:05)</text>
<text x="558.3" y="65.6" font-size="10.05" text-anchor="start" xml:space="preserve">βγδ</text>
<text x="558.3" y="89.6" font-size="10.05" text-anchor="start" xml:space="preserve">βδ</text>
<text x="558.3" y="113.6" font-size="10.05" text-anchor="start" xml:space="preserve">βγ</text>
<text x="558.3" y="136.6" font-size="10.05" text-anchor="start" xml:space="preserve">β</text>
<text x="558.3" y="160.6" font-size="10.05" text-anchor="start" xml:space="preserve">α</text>
<text x="588" y="111" font-size="10" text-anchor="middle" transform="rotate(-90 588 111)" xml:space="preserve">Mag. Class</text>
<text x="47.4" y="494" font-size="10" text-anchor="end" xml:space="preserve">B</text>
<text x="47.4" y="447" font-size="10" text-anchor="end" xml:space="preserve">C</text>
<text x="47.4" y="396" font-size="10" text-anchor="end" xml:space="preserve">M</text>
<text x="47.4" y="345" font-size="10" text-anchor="end" xml:space="preserve">X</text>
<text x="47.4" y="294" font-size="10" text-anchor="end" xml:space="preserve">X10</text>
<text x="68.7" y="508" font-size="10" text-anchor="middle" xml:space="preserve">05/08</text>
<text x="168.7" y="508" font-size="10" text-anchor="middle" xml:space="preserve">05/11</text>
<text x="268.7" y="508" font-size="10" text-anchor="middle" xml:space="preserve">05/14</text>
<text x="368.7" y="508" font-size="10" text-anchor="middle" xml:space="preserve">05/17</text>
<text x="468.7" y="508" font-size="10" text-anchor="middle" xml:space="preserve">05/20</text>
<text x="18" y="380.5" font-size="10.2" text-anchor="middle" transform="rotate(-90 18 380.5)" xml:space="preserve">Flare X-ray Class</text>
<text x="575" y="380" font-size="12.12" text-anchor="middle" transform="rotate(-90 575 380)" xml:space="preserve">Flares observed in AR</text>
<text x="560" y="286" font-size="10" text-anchor="start" xml:space="preserve">CMEs</text>
<text x="202" y="524.5" font-size="11.34" text-anchor="start" xml:space="preserve">Start Time: (2013/05/07 11:05)</text>
<text x="47.4" y="761" font-size="10" text-anchor="end" xml:space="preserve">B</text>
<text x="47.4" y="713.5" font-size="10" text-anchor="end" xml:space="preserve">C</text>
<text x="47.4" y="662.5" font-size="10" text-anchor="end" xml:space="preserve">M</text>
<text x="47.4" y="611.5" font-size="10" text-anchor="end" xml:space="preserve">X</text>
<text x="47.4" y="560.5" font-size="10" text-anchor="end" xml:space="preserve">X10</text>
<text x="68.7" y="775" font-size="10" text-anchor="middle" xml:space="preserve">05/08</text>
<text x="168.7" y="775" font-size="10" text-anchor="middle" xml:space="preserve">05/11</text>
<text x="268.7" y="775" font-size="10" text-anchor="middle" xml:space="preserve">05/14</text>
<text x="368.7" y="775" font-size="10" text-anchor="middle" xml:space="preserve">05/17</text>
<text x="468.7" y="775" font-size="10" text-anchor="middle" xml:space="preserve">05/20</text>
<text x="18" y="647" font-size="10.2" text-anchor="middle" transform="rotate(-90 18 647)" xml:space="preserve">GOES X-ray Class</text>
<text x="480" y="790.6" font-size="10.5" text-anchor="start" xml:space="preserve">Prepared by HELIO</text>
</g>
</svg></body></html>
